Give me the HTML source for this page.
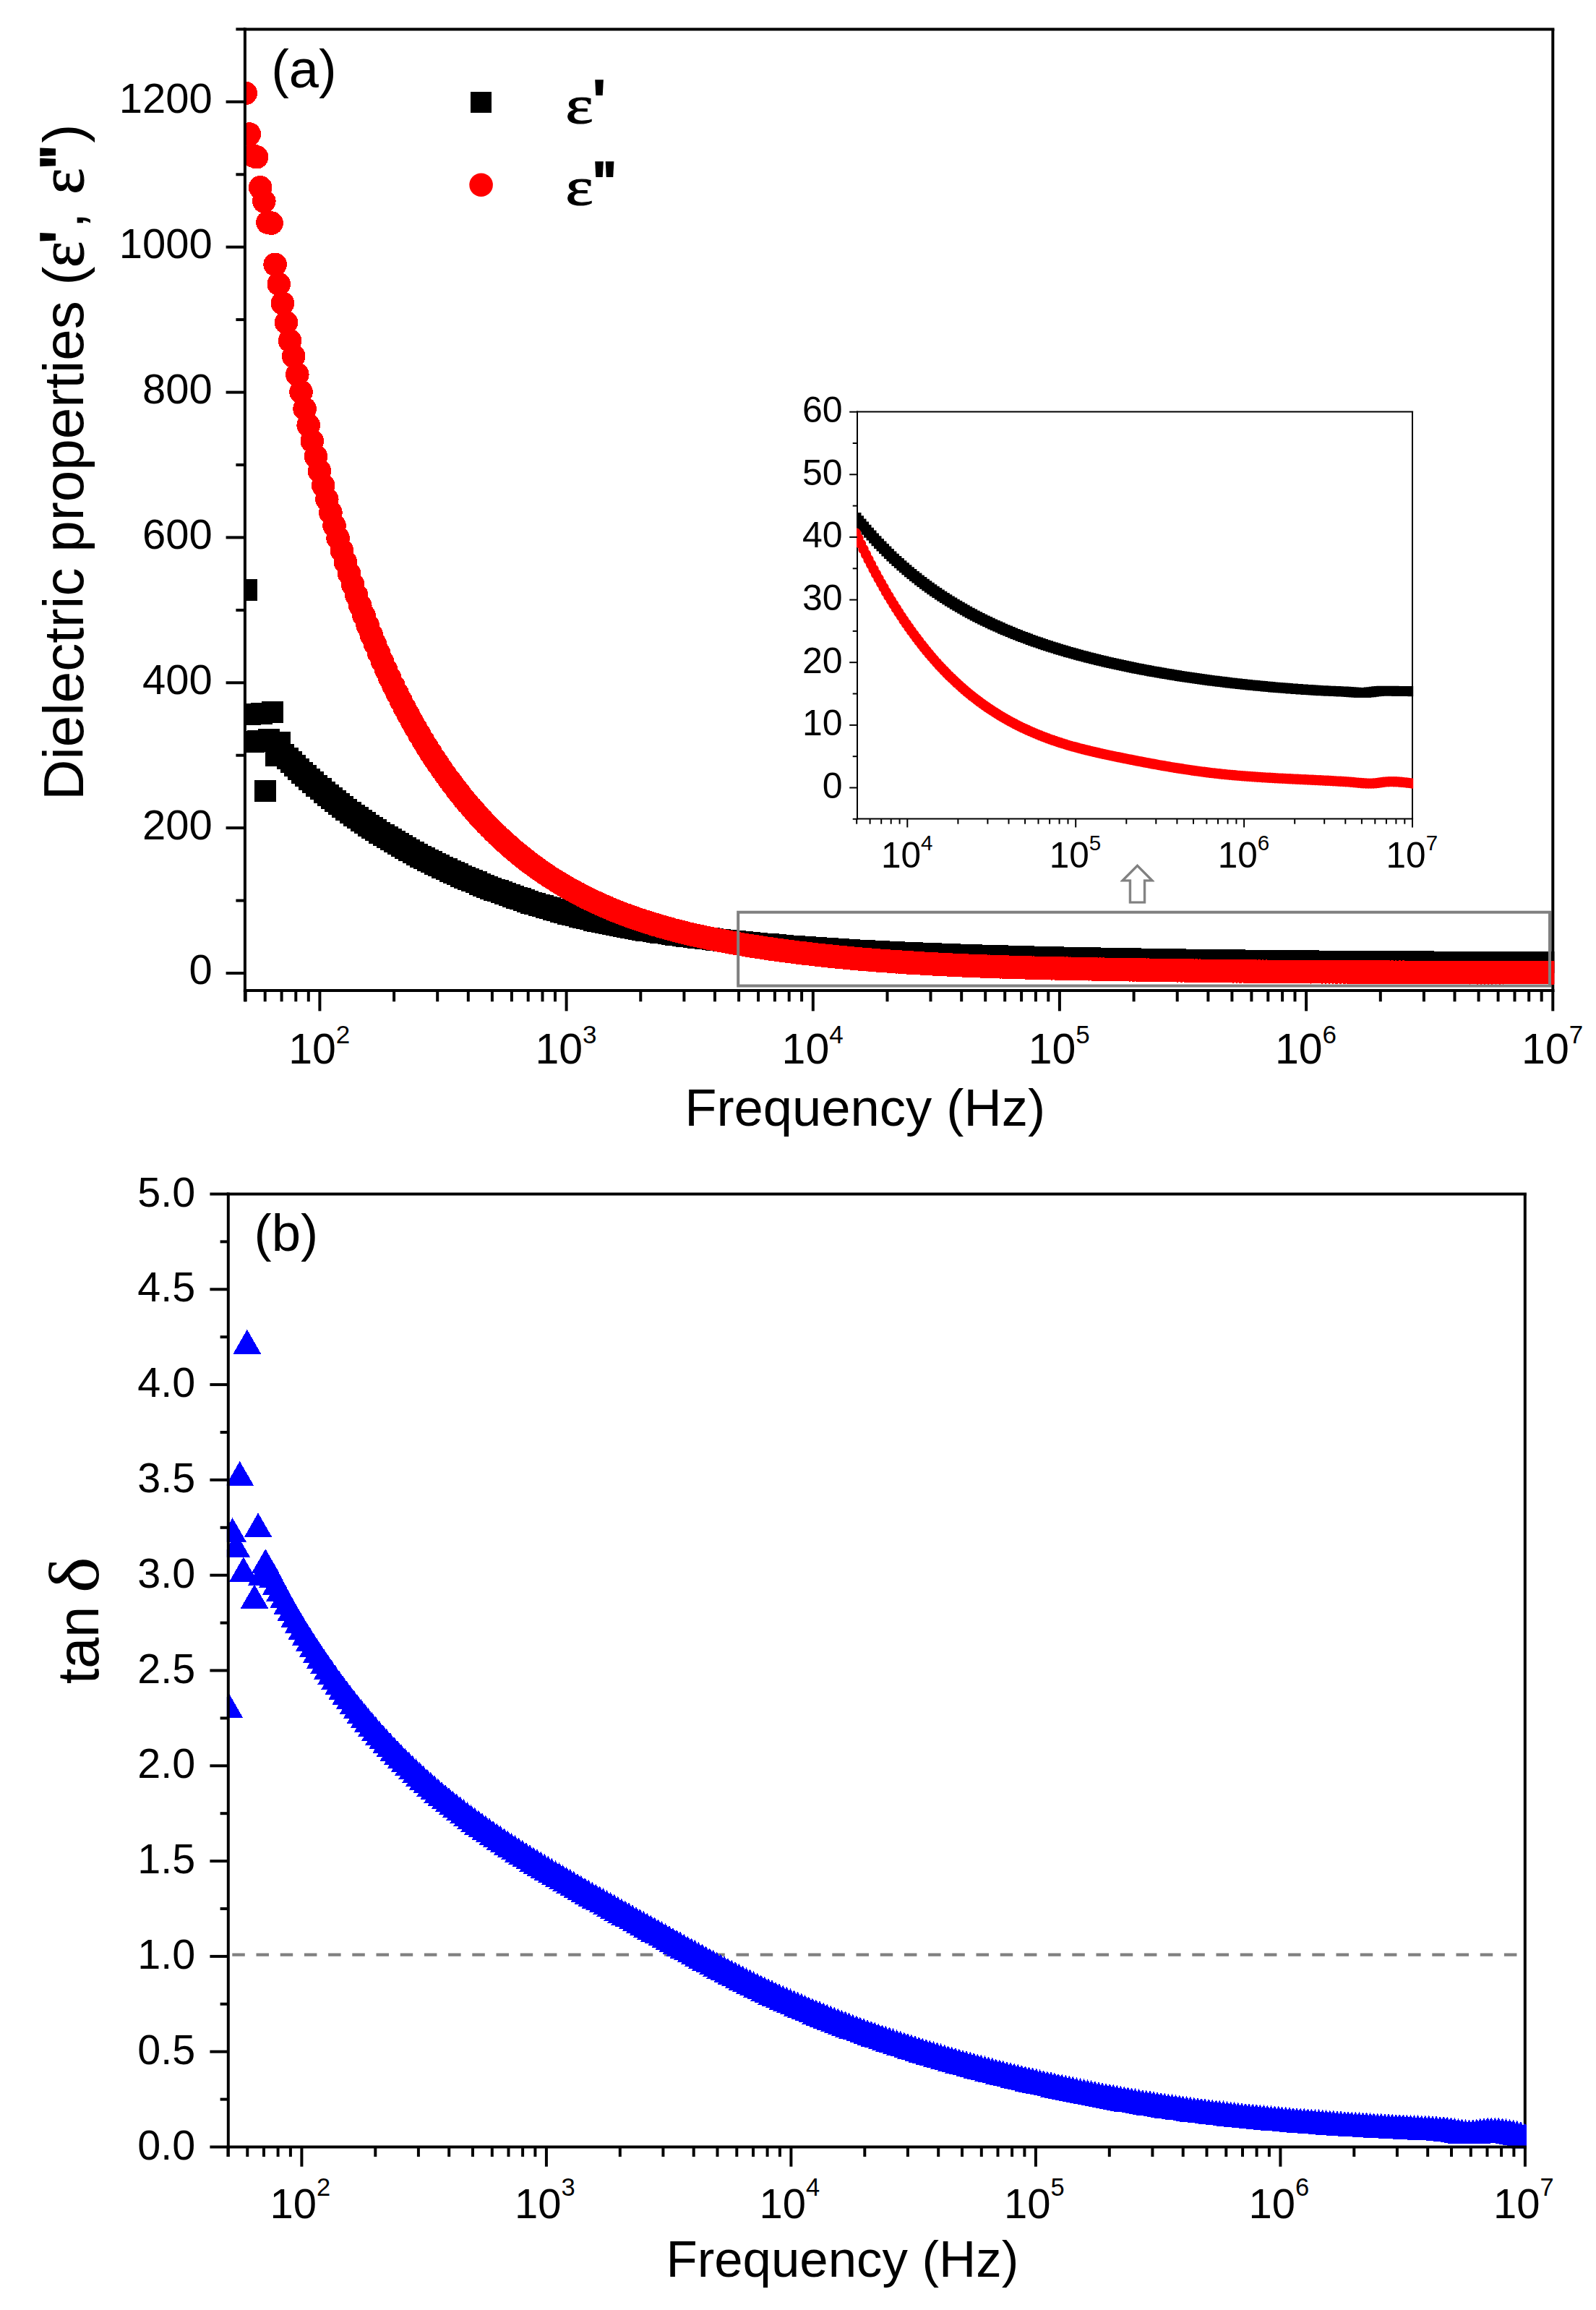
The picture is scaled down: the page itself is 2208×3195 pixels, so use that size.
<!DOCTYPE html>
<html lang="en"><head><meta charset="utf-8"><title>Dielectric properties and tan delta vs frequency</title>
<style>html,body{margin:0;padding:0;background:#fff}svg{display:block}text{fill:#000}</style></head><body>
<svg width="2208" height="3195" viewBox="0 0 2208 3195">
<rect width="2208" height="3195" fill="#fff"/>
<defs>
<clipPath id="ca"><rect x="337" y="38.4" width="1813.4" height="1333.8"/></clipPath>
<clipPath id="cb"><rect x="313.8" y="1649.4" width="1798.2" height="1322.2"/></clipPath>
<clipPath id="ci"><rect x="1185" y="568.4" width="770.2" height="565"/></clipPath>
</defs>
<g id="panel-a">
<line x1="336.9" y1="40.5" x2="2150.4" y2="40.5" stroke="#000" stroke-width="4"/>
<line x1="2148.3" y1="40.5" x2="2148.3" y2="1372" stroke="#000" stroke-width="4"/>
<g clip-path="url(#ca)" shape-rendering="crispEdges">
<path fill="#000" d="M326.2 801.1h30v30h-30zM331.3 972.5h30v30h-30zM336.4 1011.1h30v30h-30zM341.5 1010.1h30v30h-30zM346.7 972h30v30h-30zM351.8 1079.3h30v30h-30zM356.9 1007.6h30v30h-30zM362 969.5h30v30h-30zM367.1 1029.7h30v30h-30zM372.3 1012.1h30v30h-30zM377.4 1029.1h30v30h-30zM382.5 1034.1h30v30h-30zM387.6 1039h30v30h-30zM392.7 1043.9h30v30h-30zM397.8 1048.7h30v30h-30zM403 1053.5h30v30h-30zM408.1 1058.2h30v30h-30zM413.2 1062.8h30v30h-30zM418.3 1067.4h30v30h-30zM423.4 1071.9h30v30h-30zM428.5 1076.4h30v30h-30zM433.7 1080.7h30v30h-30zM438.8 1085h30v30h-30zM443.9 1089.2h30v30h-30zM449 1093.3h30v30h-30zM454.1 1097.3h30v30h-30zM459.3 1101.3h30v30h-30zM464.4 1105.1h30v30h-30zM469.5 1108.9h30v30h-30zM474.6 1112.6h30v30h-30zM479.7 1116.3h30v30h-30zM484.8 1119.8h30v30h-30zM490 1123.3h30v30h-30zM495.1 1126.8h30v30h-30zM500.2 1130.1h30v30h-30zM505.3 1133.4h30v30h-30zM510.4 1136.7h30v30h-30zM515.5 1139.9h30v30h-30zM520.7 1143.1h30v30h-30zM525.8 1146.3h30v30h-30zM530.9 1149.4h30v30h-30zM536 1152.4h30v30h-30zM541.1 1155.4h30v30h-30zM546.3 1158.3h30v30h-30zM551.4 1161.2h30v30h-30zM556.5 1164h30v30h-30zM561.6 1166.8h30v30h-30zM566.7 1169.5h30v30h-30zM571.8 1172.2h30v30h-30zM577 1174.8h30v30h-30zM582.1 1177.4h30v30h-30zM587.2 1179.9h30v30h-30zM592.3 1182.4h30v30h-30zM597.4 1184.9h30v30h-30zM602.6 1187.3h30v30h-30zM607.7 1189.7h30v30h-30zM612.8 1192.1h30v30h-30zM617.9 1194.4h30v30h-30zM623 1196.6h30v30h-30zM628.1 1198.9h30v30h-30zM633.3 1201.1h30v30h-30zM638.4 1203.2h30v30h-30zM643.5 1205.4h30v30h-30zM648.6 1207.5h30v30h-30zM653.7 1209.5h30v30h-30zM658.8 1211.5h30v30h-30zM664 1213.5h30v30h-30zM669.1 1215.5h30v30h-30zM674.2 1217.4h30v30h-30zM679.3 1219.3h30v30h-30zM684.4 1221.2h30v30h-30zM689.6 1223h30v30h-30zM694.7 1224.9h30v30h-30zM699.8 1226.6h30v30h-30zM704.9 1228.4h30v30h-30zM710 1230.1h30v30h-30zM715.1 1231.8h30v30h-30zM720.3 1233.5h30v30h-30zM725.4 1235.1h30v30h-30zM730.5 1236.8h30v30h-30zM735.6 1238.3h30v30h-30zM740.7 1239.9h30v30h-30zM745.8 1241.4h30v30h-30zM751 1242.9h30v30h-30zM756.1 1244.4h30v30h-30zM761.2 1245.8h30v30h-30zM766.3 1247.3h30v30h-30zM771.4 1248.6h30v30h-30zM776.6 1250h30v30h-30zM781.7 1251.3h30v30h-30zM786.8 1252.6h30v30h-30zM791.9 1253.9h30v30h-30zM797 1255.1h30v30h-30zM802.1 1256.4h30v30h-30zM807.3 1257.6h30v30h-30zM812.4 1258.7h30v30h-30zM817.5 1259.9h30v30h-30zM822.6 1261h30v30h-30zM827.7 1262h30v30h-30zM832.8 1263.1h30v30h-30zM838 1264.1h30v30h-30zM843.1 1265.1h30v30h-30zM848.2 1266.1h30v30h-30zM853.3 1267.1h30v30h-30zM858.4 1268h30v30h-30zM863.6 1268.9h30v30h-30zM868.7 1269.8h30v30h-30zM873.8 1270.7h30v30h-30zM878.9 1271.5h30v30h-30zM884 1272.3h30v30h-30zM889.1 1273.1h30v30h-30zM894.3 1273.9h30v30h-30zM899.4 1274.7h30v30h-30zM904.5 1275.4h30v30h-30zM909.6 1276.1h30v30h-30zM914.7 1276.8h30v30h-30zM919.8 1277.5h30v30h-30zM925 1278.2h30v30h-30zM930.1 1278.9h30v30h-30zM935.2 1279.6h30v30h-30zM940.3 1280.2h30v30h-30zM945.4 1280.8h30v30h-30zM950.6 1281.5h30v30h-30zM955.7 1282.1h30v30h-30zM960.8 1282.7h30v30h-30zM965.9 1283.3h30v30h-30zM971 1283.9h30v30h-30zM976.1 1284.5h30v30h-30zM981.3 1285h30v30h-30zM986.4 1285.6h30v30h-30zM991.5 1286.1h30v30h-30zM996.6 1286.7h30v30h-30zM1001.7 1287.2h30v30h-30zM1006.8 1287.7h30v30h-30zM1012 1288.2h30v30h-30zM1017.1 1288.7h30v30h-30zM1022.2 1289.2h30v30h-30zM1027.3 1289.6h30v30h-30zM1032.4 1290.1h30v30h-30zM1037.6 1290.6h30v30h-30zM1042.7 1291h30v30h-30zM1047.8 1291.4h30v30h-30zM1052.9 1291.9h30v30h-30zM1058 1292.3h30v30h-30zM1063.1 1292.7h30v30h-30zM1068.3 1293.1h30v30h-30zM1073.4 1293.5h30v30h-30zM1078.5 1293.9h30v30h-30zM1083.6 1294.3h30v30h-30zM1088.7 1294.7h30v30h-30zM1093.8 1295h30v30h-30zM1099 1295.4h30v30h-30zM1104.1 1295.7h30v30h-30zM1109.2 1296.1h30v30h-30zM1114.3 1296.4h30v30h-30zM1119.4 1296.8h30v30h-30zM1124.6 1297.1h30v30h-30zM1129.7 1297.4h30v30h-30zM1134.8 1297.7h30v30h-30zM1139.9 1298h30v30h-30zM1145 1298.3h30v30h-30zM1150.1 1298.6h30v30h-30zM1155.3 1298.9h30v30h-30zM1160.4 1299.2h30v30h-30zM1165.5 1299.5h30v30h-30zM1170.6 1299.8h30v30h-30zM1175.7 1300h30v30h-30zM1180.9 1300.3h30v30h-30zM1186 1300.6h30v30h-30zM1191.1 1300.8h30v30h-30zM1196.2 1301.1h30v30h-30zM1201.3 1301.3h30v30h-30zM1206.4 1301.6h30v30h-30zM1211.6 1301.8h30v30h-30zM1216.7 1302.1h30v30h-30zM1221.8 1302.3h30v30h-30zM1226.9 1302.5h30v30h-30zM1232 1302.7h30v30h-30zM1237.1 1303h30v30h-30zM1242.3 1303.2h30v30h-30zM1247.4 1303.4h30v30h-30zM1252.5 1303.6h30v30h-30zM1257.6 1303.8h30v30h-30zM1262.7 1304h30v30h-30zM1267.9 1304.2h30v30h-30zM1273 1304.4h30v30h-30zM1278.1 1304.6h30v30h-30zM1283.2 1304.8h30v30h-30zM1288.3 1305h30v30h-30zM1293.4 1305.2h30v30h-30zM1298.6 1305.3h30v30h-30zM1303.7 1305.5h30v30h-30zM1308.8 1305.7h30v30h-30zM1313.9 1305.9h30v30h-30zM1319 1306h30v30h-30zM1324.1 1306.2h30v30h-30zM1329.3 1306.4h30v30h-30zM1334.4 1306.5h30v30h-30zM1339.5 1306.7h30v30h-30zM1344.6 1306.8h30v30h-30zM1349.7 1307h30v30h-30zM1354.9 1307.1h30v30h-30zM1360 1307.3h30v30h-30zM1365.1 1307.4h30v30h-30zM1370.2 1307.6h30v30h-30zM1375.3 1307.7h30v30h-30zM1380.4 1307.9h30v30h-30zM1385.6 1308h30v30h-30zM1390.7 1308.1h30v30h-30zM1395.8 1308.3h30v30h-30zM1400.9 1308.4h30v30h-30zM1406 1308.5h30v30h-30zM1411.1 1308.6h30v30h-30zM1416.3 1308.8h30v30h-30zM1421.4 1308.9h30v30h-30zM1426.5 1309h30v30h-30zM1431.6 1309.1h30v30h-30zM1436.7 1309.2h30v30h-30zM1441.9 1309.4h30v30h-30zM1447 1309.5h30v30h-30zM1452.1 1309.6h30v30h-30zM1457.2 1309.7h30v30h-30zM1462.3 1309.8h30v30h-30zM1467.4 1309.9h30v30h-30zM1472.6 1310h30v30h-30zM1477.7 1310.1h30v30h-30zM1482.8 1310.2h30v30h-30zM1487.9 1310.3h30v30h-30zM1493 1310.4h30v30h-30zM1498.1 1310.5h30v30h-30zM1503.3 1310.6h30v30h-30zM1508.4 1310.7h30v30h-30zM1513.5 1310.8h30v30h-30zM1518.6 1310.9h30v30h-30zM1523.7 1311h30v30h-30zM1528.9 1311.1h30v30h-30zM1534 1311.2h30v30h-30zM1539.1 1311.3h30v30h-30zM1544.2 1311.4h30v30h-30zM1549.3 1311.4h30v30h-30zM1554.4 1311.5h30v30h-30zM1559.6 1311.6h30v30h-30zM1564.7 1311.7h30v30h-30zM1569.8 1311.8h30v30h-30zM1574.9 1311.9h30v30h-30zM1580 1311.9h30v30h-30zM1585.1 1312h30v30h-30zM1590.3 1312.1h30v30h-30zM1595.4 1312.2h30v30h-30zM1600.5 1312.2h30v30h-30zM1605.6 1312.3h30v30h-30zM1610.7 1312.4h30v30h-30zM1615.9 1312.5h30v30h-30zM1621 1312.5h30v30h-30zM1626.1 1312.6h30v30h-30zM1631.2 1312.7h30v30h-30zM1636.3 1312.7h30v30h-30zM1641.4 1312.8h30v30h-30zM1646.6 1312.9h30v30h-30zM1651.7 1312.9h30v30h-30zM1656.8 1313h30v30h-30zM1661.9 1313.1h30v30h-30zM1667 1313.1h30v30h-30zM1672.1 1313.2h30v30h-30zM1677.3 1313.3h30v30h-30zM1682.4 1313.3h30v30h-30zM1687.5 1313.4h30v30h-30zM1692.6 1313.4h30v30h-30zM1697.7 1313.5h30v30h-30zM1702.9 1313.6h30v30h-30zM1708 1313.6h30v30h-30zM1713.1 1313.7h30v30h-30zM1718.2 1313.7h30v30h-30zM1723.3 1313.8h30v30h-30zM1728.4 1313.8h30v30h-30zM1733.6 1313.9h30v30h-30zM1738.7 1313.9h30v30h-30zM1743.8 1314h30v30h-30zM1748.9 1314h30v30h-30zM1754 1314.1h30v30h-30zM1759.2 1314.1h30v30h-30zM1764.3 1314.2h30v30h-30zM1769.4 1314.2h30v30h-30zM1774.5 1314.3h30v30h-30zM1779.6 1314.3h30v30h-30zM1784.7 1314.4h30v30h-30zM1789.9 1314.4h30v30h-30zM1795 1314.4h30v30h-30zM1800.1 1314.5h30v30h-30zM1805.2 1314.5h30v30h-30zM1810.3 1314.6h30v30h-30zM1815.4 1314.6h30v30h-30zM1820.6 1314.7h30v30h-30zM1825.7 1314.7h30v30h-30zM1830.8 1314.7h30v30h-30zM1835.9 1314.8h30v30h-30zM1841 1314.8h30v30h-30zM1846.2 1314.8h30v30h-30zM1851.3 1314.9h30v30h-30zM1856.4 1314.9h30v30h-30zM1861.5 1314.9h30v30h-30zM1866.6 1315h30v30h-30zM1871.7 1315h30v30h-30zM1876.9 1315h30v30h-30zM1882 1315.1h30v30h-30zM1887.1 1315.1h30v30h-30zM1892.2 1315.1h30v30h-30zM1897.3 1315.2h30v30h-30zM1902.4 1315.2h30v30h-30zM1907.6 1315.2h30v30h-30zM1912.7 1315.3h30v30h-30zM1917.8 1315.3h30v30h-30zM1922.9 1315.3h30v30h-30zM1928 1315.3h30v30h-30zM1933.2 1315.4h30v30h-30zM1938.3 1315.4h30v30h-30zM1943.4 1315.4h30v30h-30zM1948.5 1315.4h30v30h-30zM1953.6 1315.4h30v30h-30zM1958.7 1315.5h30v30h-30zM1963.9 1315.5h30v30h-30zM1969 1315.5h30v30h-30zM1974.1 1315.5h30v30h-30zM1979.2 1315.5h30v30h-30zM1984.3 1315.6h30v30h-30zM1989.4 1315.6h30v30h-30zM1994.6 1315.6h30v30h-30zM1999.7 1315.6h30v30h-30zM2004.8 1315.6h30v30h-30zM2009.9 1315.7h30v30h-30zM2015 1315.7h30v30h-30zM2020.2 1315.7h30v30h-30zM2025.3 1315.7h30v30h-30zM2030.4 1315.8h30v30h-30zM2035.5 1315.8h30v30h-30zM2040.6 1315.7h30v30h-30zM2045.7 1315.7h30v30h-30zM2050.9 1315.7h30v30h-30zM2056 1315.6h30v30h-30zM2061.1 1315.6h30v30h-30zM2066.2 1315.5h30v30h-30zM2071.3 1315.5h30v30h-30zM2076.4 1315.5h30v30h-30zM2081.6 1315.5h30v30h-30zM2086.7 1315.5h30v30h-30zM2091.8 1315.5h30v30h-30zM2096.9 1315.5h30v30h-30zM2102 1315.5h30v30h-30zM2107.2 1315.5h30v30h-30zM2112.3 1315.5h30v30h-30zM2117.4 1315.5h30v30h-30zM2122.5 1315.5h30v30h-30zM2127.6 1315.5h30v30h-30zM2132.7 1315.5h30v30h-30zM2134.8 1315.5h30v30h-30z"/>
<path fill="#f00" d="M323.4 128.8a16.3 16.3 0 1 0 32.6 0a16.3 16.3 0 1 0 -32.6 0zM328.5 185.5a16.3 16.3 0 1 0 32.6 0a16.3 16.3 0 1 0 -32.6 0zM333.6 215.2a16.3 16.3 0 1 0 32.6 0a16.3 16.3 0 1 0 -32.6 0zM338.7 217.2a16.3 16.3 0 1 0 32.6 0a16.3 16.3 0 1 0 -32.6 0zM343.9 259.3a16.3 16.3 0 1 0 32.6 0a16.3 16.3 0 1 0 -32.6 0zM349 278.4a16.3 16.3 0 1 0 32.6 0a16.3 16.3 0 1 0 -32.6 0zM354.1 307.6a16.3 16.3 0 1 0 32.6 0a16.3 16.3 0 1 0 -32.6 0zM359.2 308.6a16.3 16.3 0 1 0 32.6 0a16.3 16.3 0 1 0 -32.6 0zM364.3 365.8a16.3 16.3 0 1 0 32.6 0a16.3 16.3 0 1 0 -32.6 0zM369.5 392.9a16.3 16.3 0 1 0 32.6 0a16.3 16.3 0 1 0 -32.6 0zM374.6 419.5a16.3 16.3 0 1 0 32.6 0a16.3 16.3 0 1 0 -32.6 0zM379.7 446.1a16.3 16.3 0 1 0 32.6 0a16.3 16.3 0 1 0 -32.6 0zM384.8 471.3a16.3 16.3 0 1 0 32.6 0a16.3 16.3 0 1 0 -32.6 0zM389.9 492.8a16.3 16.3 0 1 0 32.6 0a16.3 16.3 0 1 0 -32.6 0zM395 517.9a16.3 16.3 0 1 0 32.6 0a16.3 16.3 0 1 0 -32.6 0zM400.2 542.1a16.3 16.3 0 1 0 32.6 0a16.3 16.3 0 1 0 -32.6 0zM405.3 565.5a16.3 16.3 0 1 0 32.6 0a16.3 16.3 0 1 0 -32.6 0zM410.4 588.2a16.3 16.3 0 1 0 32.6 0a16.3 16.3 0 1 0 -32.6 0zM415.5 610a16.3 16.3 0 1 0 32.6 0a16.3 16.3 0 1 0 -32.6 0zM420.6 631.2a16.3 16.3 0 1 0 32.6 0a16.3 16.3 0 1 0 -32.6 0zM425.7 651.6a16.3 16.3 0 1 0 32.6 0a16.3 16.3 0 1 0 -32.6 0zM430.9 671.4a16.3 16.3 0 1 0 32.6 0a16.3 16.3 0 1 0 -32.6 0zM436 690.5a16.3 16.3 0 1 0 32.6 0a16.3 16.3 0 1 0 -32.6 0zM441.1 709a16.3 16.3 0 1 0 32.6 0a16.3 16.3 0 1 0 -32.6 0zM446.2 727a16.3 16.3 0 1 0 32.6 0a16.3 16.3 0 1 0 -32.6 0zM451.3 744.3a16.3 16.3 0 1 0 32.6 0a16.3 16.3 0 1 0 -32.6 0zM456.5 761.1a16.3 16.3 0 1 0 32.6 0a16.3 16.3 0 1 0 -32.6 0zM461.6 777.4a16.3 16.3 0 1 0 32.6 0a16.3 16.3 0 1 0 -32.6 0zM466.7 793.1a16.3 16.3 0 1 0 32.6 0a16.3 16.3 0 1 0 -32.6 0zM471.8 808.4a16.3 16.3 0 1 0 32.6 0a16.3 16.3 0 1 0 -32.6 0zM476.9 823.2a16.3 16.3 0 1 0 32.6 0a16.3 16.3 0 1 0 -32.6 0zM482 837.5a16.3 16.3 0 1 0 32.6 0a16.3 16.3 0 1 0 -32.6 0zM487.2 851.4a16.3 16.3 0 1 0 32.6 0a16.3 16.3 0 1 0 -32.6 0zM492.3 864.9a16.3 16.3 0 1 0 32.6 0a16.3 16.3 0 1 0 -32.6 0zM497.4 878a16.3 16.3 0 1 0 32.6 0a16.3 16.3 0 1 0 -32.6 0zM502.5 890.6a16.3 16.3 0 1 0 32.6 0a16.3 16.3 0 1 0 -32.6 0zM507.6 902.9a16.3 16.3 0 1 0 32.6 0a16.3 16.3 0 1 0 -32.6 0zM512.7 914.9a16.3 16.3 0 1 0 32.6 0a16.3 16.3 0 1 0 -32.6 0zM517.9 926.4a16.3 16.3 0 1 0 32.6 0a16.3 16.3 0 1 0 -32.6 0zM523 937.7a16.3 16.3 0 1 0 32.6 0a16.3 16.3 0 1 0 -32.6 0zM528.1 948.5a16.3 16.3 0 1 0 32.6 0a16.3 16.3 0 1 0 -32.6 0zM533.2 958.9a16.3 16.3 0 1 0 32.6 0a16.3 16.3 0 1 0 -32.6 0zM538.3 969.1a16.3 16.3 0 1 0 32.6 0a16.3 16.3 0 1 0 -32.6 0zM543.5 979a16.3 16.3 0 1 0 32.6 0a16.3 16.3 0 1 0 -32.6 0zM548.6 988.6a16.3 16.3 0 1 0 32.6 0a16.3 16.3 0 1 0 -32.6 0zM553.7 998a16.3 16.3 0 1 0 32.6 0a16.3 16.3 0 1 0 -32.6 0zM558.8 1007a16.3 16.3 0 1 0 32.6 0a16.3 16.3 0 1 0 -32.6 0zM563.9 1015.9a16.3 16.3 0 1 0 32.6 0a16.3 16.3 0 1 0 -32.6 0zM569 1024.4a16.3 16.3 0 1 0 32.6 0a16.3 16.3 0 1 0 -32.6 0zM574.2 1032.8a16.3 16.3 0 1 0 32.6 0a16.3 16.3 0 1 0 -32.6 0zM579.3 1040.9a16.3 16.3 0 1 0 32.6 0a16.3 16.3 0 1 0 -32.6 0zM584.4 1048.8a16.3 16.3 0 1 0 32.6 0a16.3 16.3 0 1 0 -32.6 0zM589.5 1056.4a16.3 16.3 0 1 0 32.6 0a16.3 16.3 0 1 0 -32.6 0zM594.6 1063.9a16.3 16.3 0 1 0 32.6 0a16.3 16.3 0 1 0 -32.6 0zM599.8 1071.2a16.3 16.3 0 1 0 32.6 0a16.3 16.3 0 1 0 -32.6 0zM604.9 1078.2a16.3 16.3 0 1 0 32.6 0a16.3 16.3 0 1 0 -32.6 0zM610 1085.1a16.3 16.3 0 1 0 32.6 0a16.3 16.3 0 1 0 -32.6 0zM615.1 1091.8a16.3 16.3 0 1 0 32.6 0a16.3 16.3 0 1 0 -32.6 0zM620.2 1098.3a16.3 16.3 0 1 0 32.6 0a16.3 16.3 0 1 0 -32.6 0zM625.3 1104.7a16.3 16.3 0 1 0 32.6 0a16.3 16.3 0 1 0 -32.6 0zM630.5 1110.9a16.3 16.3 0 1 0 32.6 0a16.3 16.3 0 1 0 -32.6 0zM635.6 1116.9a16.3 16.3 0 1 0 32.6 0a16.3 16.3 0 1 0 -32.6 0zM640.7 1122.7a16.3 16.3 0 1 0 32.6 0a16.3 16.3 0 1 0 -32.6 0zM645.8 1128.4a16.3 16.3 0 1 0 32.6 0a16.3 16.3 0 1 0 -32.6 0zM650.9 1134a16.3 16.3 0 1 0 32.6 0a16.3 16.3 0 1 0 -32.6 0zM656 1139.4a16.3 16.3 0 1 0 32.6 0a16.3 16.3 0 1 0 -32.6 0zM661.2 1144.6a16.3 16.3 0 1 0 32.6 0a16.3 16.3 0 1 0 -32.6 0zM666.3 1149.8a16.3 16.3 0 1 0 32.6 0a16.3 16.3 0 1 0 -32.6 0zM671.4 1154.7a16.3 16.3 0 1 0 32.6 0a16.3 16.3 0 1 0 -32.6 0zM676.5 1159.6a16.3 16.3 0 1 0 32.6 0a16.3 16.3 0 1 0 -32.6 0zM681.6 1164.3a16.3 16.3 0 1 0 32.6 0a16.3 16.3 0 1 0 -32.6 0zM686.8 1168.9a16.3 16.3 0 1 0 32.6 0a16.3 16.3 0 1 0 -32.6 0zM691.9 1173.4a16.3 16.3 0 1 0 32.6 0a16.3 16.3 0 1 0 -32.6 0zM697 1177.7a16.3 16.3 0 1 0 32.6 0a16.3 16.3 0 1 0 -32.6 0zM702.1 1181.9a16.3 16.3 0 1 0 32.6 0a16.3 16.3 0 1 0 -32.6 0zM707.2 1186.1a16.3 16.3 0 1 0 32.6 0a16.3 16.3 0 1 0 -32.6 0zM712.3 1190.1a16.3 16.3 0 1 0 32.6 0a16.3 16.3 0 1 0 -32.6 0zM717.5 1194a16.3 16.3 0 1 0 32.6 0a16.3 16.3 0 1 0 -32.6 0zM722.6 1197.8a16.3 16.3 0 1 0 32.6 0a16.3 16.3 0 1 0 -32.6 0zM727.7 1201.5a16.3 16.3 0 1 0 32.6 0a16.3 16.3 0 1 0 -32.6 0zM732.8 1205.1a16.3 16.3 0 1 0 32.6 0a16.3 16.3 0 1 0 -32.6 0zM737.9 1208.6a16.3 16.3 0 1 0 32.6 0a16.3 16.3 0 1 0 -32.6 0zM743 1212a16.3 16.3 0 1 0 32.6 0a16.3 16.3 0 1 0 -32.6 0zM748.2 1215.3a16.3 16.3 0 1 0 32.6 0a16.3 16.3 0 1 0 -32.6 0zM753.3 1218.5a16.3 16.3 0 1 0 32.6 0a16.3 16.3 0 1 0 -32.6 0zM758.4 1221.6a16.3 16.3 0 1 0 32.6 0a16.3 16.3 0 1 0 -32.6 0zM763.5 1224.7a16.3 16.3 0 1 0 32.6 0a16.3 16.3 0 1 0 -32.6 0zM768.6 1227.7a16.3 16.3 0 1 0 32.6 0a16.3 16.3 0 1 0 -32.6 0zM773.8 1230.6a16.3 16.3 0 1 0 32.6 0a16.3 16.3 0 1 0 -32.6 0zM778.9 1233.4a16.3 16.3 0 1 0 32.6 0a16.3 16.3 0 1 0 -32.6 0zM784 1236.1a16.3 16.3 0 1 0 32.6 0a16.3 16.3 0 1 0 -32.6 0zM789.1 1238.8a16.3 16.3 0 1 0 32.6 0a16.3 16.3 0 1 0 -32.6 0zM794.2 1241.4a16.3 16.3 0 1 0 32.6 0a16.3 16.3 0 1 0 -32.6 0zM799.3 1243.9a16.3 16.3 0 1 0 32.6 0a16.3 16.3 0 1 0 -32.6 0zM804.5 1246.4a16.3 16.3 0 1 0 32.6 0a16.3 16.3 0 1 0 -32.6 0zM809.6 1248.8a16.3 16.3 0 1 0 32.6 0a16.3 16.3 0 1 0 -32.6 0zM814.7 1251.1a16.3 16.3 0 1 0 32.6 0a16.3 16.3 0 1 0 -32.6 0zM819.8 1253.3a16.3 16.3 0 1 0 32.6 0a16.3 16.3 0 1 0 -32.6 0zM824.9 1255.6a16.3 16.3 0 1 0 32.6 0a16.3 16.3 0 1 0 -32.6 0zM830 1257.7a16.3 16.3 0 1 0 32.6 0a16.3 16.3 0 1 0 -32.6 0zM835.2 1259.8a16.3 16.3 0 1 0 32.6 0a16.3 16.3 0 1 0 -32.6 0zM840.3 1261.8a16.3 16.3 0 1 0 32.6 0a16.3 16.3 0 1 0 -32.6 0zM845.4 1263.8a16.3 16.3 0 1 0 32.6 0a16.3 16.3 0 1 0 -32.6 0zM850.5 1265.7a16.3 16.3 0 1 0 32.6 0a16.3 16.3 0 1 0 -32.6 0zM855.6 1267.6a16.3 16.3 0 1 0 32.6 0a16.3 16.3 0 1 0 -32.6 0zM860.8 1269.4a16.3 16.3 0 1 0 32.6 0a16.3 16.3 0 1 0 -32.6 0zM865.9 1271.2a16.3 16.3 0 1 0 32.6 0a16.3 16.3 0 1 0 -32.6 0zM871 1272.9a16.3 16.3 0 1 0 32.6 0a16.3 16.3 0 1 0 -32.6 0zM876.1 1274.6a16.3 16.3 0 1 0 32.6 0a16.3 16.3 0 1 0 -32.6 0zM881.2 1276.2a16.3 16.3 0 1 0 32.6 0a16.3 16.3 0 1 0 -32.6 0zM886.3 1277.8a16.3 16.3 0 1 0 32.6 0a16.3 16.3 0 1 0 -32.6 0zM891.5 1279.4a16.3 16.3 0 1 0 32.6 0a16.3 16.3 0 1 0 -32.6 0zM896.6 1280.9a16.3 16.3 0 1 0 32.6 0a16.3 16.3 0 1 0 -32.6 0zM901.7 1282.4a16.3 16.3 0 1 0 32.6 0a16.3 16.3 0 1 0 -32.6 0zM906.8 1283.8a16.3 16.3 0 1 0 32.6 0a16.3 16.3 0 1 0 -32.6 0zM911.9 1285.2a16.3 16.3 0 1 0 32.6 0a16.3 16.3 0 1 0 -32.6 0zM917 1286.6a16.3 16.3 0 1 0 32.6 0a16.3 16.3 0 1 0 -32.6 0zM922.2 1287.9a16.3 16.3 0 1 0 32.6 0a16.3 16.3 0 1 0 -32.6 0zM927.3 1289.2a16.3 16.3 0 1 0 32.6 0a16.3 16.3 0 1 0 -32.6 0zM932.4 1290.4a16.3 16.3 0 1 0 32.6 0a16.3 16.3 0 1 0 -32.6 0zM937.5 1291.7a16.3 16.3 0 1 0 32.6 0a16.3 16.3 0 1 0 -32.6 0zM942.6 1292.9a16.3 16.3 0 1 0 32.6 0a16.3 16.3 0 1 0 -32.6 0zM947.8 1294a16.3 16.3 0 1 0 32.6 0a16.3 16.3 0 1 0 -32.6 0zM952.9 1295.2a16.3 16.3 0 1 0 32.6 0a16.3 16.3 0 1 0 -32.6 0zM958 1296.3a16.3 16.3 0 1 0 32.6 0a16.3 16.3 0 1 0 -32.6 0zM963.1 1297.4a16.3 16.3 0 1 0 32.6 0a16.3 16.3 0 1 0 -32.6 0zM968.2 1298.4a16.3 16.3 0 1 0 32.6 0a16.3 16.3 0 1 0 -32.6 0zM973.3 1299.4a16.3 16.3 0 1 0 32.6 0a16.3 16.3 0 1 0 -32.6 0zM978.5 1300.5a16.3 16.3 0 1 0 32.6 0a16.3 16.3 0 1 0 -32.6 0zM983.6 1301.4a16.3 16.3 0 1 0 32.6 0a16.3 16.3 0 1 0 -32.6 0zM988.7 1302.4a16.3 16.3 0 1 0 32.6 0a16.3 16.3 0 1 0 -32.6 0zM993.8 1303.4a16.3 16.3 0 1 0 32.6 0a16.3 16.3 0 1 0 -32.6 0zM998.9 1304.3a16.3 16.3 0 1 0 32.6 0a16.3 16.3 0 1 0 -32.6 0zM1004 1305.2a16.3 16.3 0 1 0 32.6 0a16.3 16.3 0 1 0 -32.6 0zM1009.2 1306.1a16.3 16.3 0 1 0 32.6 0a16.3 16.3 0 1 0 -32.6 0zM1014.3 1306.9a16.3 16.3 0 1 0 32.6 0a16.3 16.3 0 1 0 -32.6 0zM1019.4 1307.8a16.3 16.3 0 1 0 32.6 0a16.3 16.3 0 1 0 -32.6 0zM1024.5 1308.6a16.3 16.3 0 1 0 32.6 0a16.3 16.3 0 1 0 -32.6 0zM1029.6 1309.4a16.3 16.3 0 1 0 32.6 0a16.3 16.3 0 1 0 -32.6 0zM1034.8 1310.2a16.3 16.3 0 1 0 32.6 0a16.3 16.3 0 1 0 -32.6 0zM1039.9 1311a16.3 16.3 0 1 0 32.6 0a16.3 16.3 0 1 0 -32.6 0zM1045 1311.7a16.3 16.3 0 1 0 32.6 0a16.3 16.3 0 1 0 -32.6 0zM1050.1 1312.5a16.3 16.3 0 1 0 32.6 0a16.3 16.3 0 1 0 -32.6 0zM1055.2 1313.2a16.3 16.3 0 1 0 32.6 0a16.3 16.3 0 1 0 -32.6 0zM1060.3 1313.9a16.3 16.3 0 1 0 32.6 0a16.3 16.3 0 1 0 -32.6 0zM1065.5 1314.6a16.3 16.3 0 1 0 32.6 0a16.3 16.3 0 1 0 -32.6 0zM1070.6 1315.3a16.3 16.3 0 1 0 32.6 0a16.3 16.3 0 1 0 -32.6 0zM1075.7 1316a16.3 16.3 0 1 0 32.6 0a16.3 16.3 0 1 0 -32.6 0zM1080.8 1316.6a16.3 16.3 0 1 0 32.6 0a16.3 16.3 0 1 0 -32.6 0zM1085.9 1317.3a16.3 16.3 0 1 0 32.6 0a16.3 16.3 0 1 0 -32.6 0zM1091 1317.9a16.3 16.3 0 1 0 32.6 0a16.3 16.3 0 1 0 -32.6 0zM1096.2 1318.5a16.3 16.3 0 1 0 32.6 0a16.3 16.3 0 1 0 -32.6 0zM1101.3 1319.1a16.3 16.3 0 1 0 32.6 0a16.3 16.3 0 1 0 -32.6 0zM1106.4 1319.7a16.3 16.3 0 1 0 32.6 0a16.3 16.3 0 1 0 -32.6 0zM1111.5 1320.3a16.3 16.3 0 1 0 32.6 0a16.3 16.3 0 1 0 -32.6 0zM1116.6 1320.9a16.3 16.3 0 1 0 32.6 0a16.3 16.3 0 1 0 -32.6 0zM1121.8 1321.4a16.3 16.3 0 1 0 32.6 0a16.3 16.3 0 1 0 -32.6 0zM1126.9 1322a16.3 16.3 0 1 0 32.6 0a16.3 16.3 0 1 0 -32.6 0zM1132 1322.5a16.3 16.3 0 1 0 32.6 0a16.3 16.3 0 1 0 -32.6 0zM1137.1 1323a16.3 16.3 0 1 0 32.6 0a16.3 16.3 0 1 0 -32.6 0zM1142.2 1323.6a16.3 16.3 0 1 0 32.6 0a16.3 16.3 0 1 0 -32.6 0zM1147.3 1324a16.3 16.3 0 1 0 32.6 0a16.3 16.3 0 1 0 -32.6 0zM1152.5 1324.5a16.3 16.3 0 1 0 32.6 0a16.3 16.3 0 1 0 -32.6 0zM1157.6 1325a16.3 16.3 0 1 0 32.6 0a16.3 16.3 0 1 0 -32.6 0zM1162.7 1325.5a16.3 16.3 0 1 0 32.6 0a16.3 16.3 0 1 0 -32.6 0zM1167.8 1325.9a16.3 16.3 0 1 0 32.6 0a16.3 16.3 0 1 0 -32.6 0zM1172.9 1326.4a16.3 16.3 0 1 0 32.6 0a16.3 16.3 0 1 0 -32.6 0zM1178.1 1326.8a16.3 16.3 0 1 0 32.6 0a16.3 16.3 0 1 0 -32.6 0zM1183.2 1327.2a16.3 16.3 0 1 0 32.6 0a16.3 16.3 0 1 0 -32.6 0zM1188.3 1327.7a16.3 16.3 0 1 0 32.6 0a16.3 16.3 0 1 0 -32.6 0zM1193.4 1328.1a16.3 16.3 0 1 0 32.6 0a16.3 16.3 0 1 0 -32.6 0zM1198.5 1328.5a16.3 16.3 0 1 0 32.6 0a16.3 16.3 0 1 0 -32.6 0zM1203.6 1328.8a16.3 16.3 0 1 0 32.6 0a16.3 16.3 0 1 0 -32.6 0zM1208.8 1329.2a16.3 16.3 0 1 0 32.6 0a16.3 16.3 0 1 0 -32.6 0zM1213.9 1329.6a16.3 16.3 0 1 0 32.6 0a16.3 16.3 0 1 0 -32.6 0zM1219 1330a16.3 16.3 0 1 0 32.6 0a16.3 16.3 0 1 0 -32.6 0zM1224.1 1330.3a16.3 16.3 0 1 0 32.6 0a16.3 16.3 0 1 0 -32.6 0zM1229.2 1330.6a16.3 16.3 0 1 0 32.6 0a16.3 16.3 0 1 0 -32.6 0zM1234.3 1331a16.3 16.3 0 1 0 32.6 0a16.3 16.3 0 1 0 -32.6 0zM1239.5 1331.3a16.3 16.3 0 1 0 32.6 0a16.3 16.3 0 1 0 -32.6 0zM1244.6 1331.6a16.3 16.3 0 1 0 32.6 0a16.3 16.3 0 1 0 -32.6 0zM1249.7 1331.9a16.3 16.3 0 1 0 32.6 0a16.3 16.3 0 1 0 -32.6 0zM1254.8 1332.2a16.3 16.3 0 1 0 32.6 0a16.3 16.3 0 1 0 -32.6 0zM1259.9 1332.5a16.3 16.3 0 1 0 32.6 0a16.3 16.3 0 1 0 -32.6 0zM1265.1 1332.8a16.3 16.3 0 1 0 32.6 0a16.3 16.3 0 1 0 -32.6 0zM1270.2 1333.1a16.3 16.3 0 1 0 32.6 0a16.3 16.3 0 1 0 -32.6 0zM1275.3 1333.4a16.3 16.3 0 1 0 32.6 0a16.3 16.3 0 1 0 -32.6 0zM1280.4 1333.7a16.3 16.3 0 1 0 32.6 0a16.3 16.3 0 1 0 -32.6 0zM1285.5 1333.9a16.3 16.3 0 1 0 32.6 0a16.3 16.3 0 1 0 -32.6 0zM1290.6 1334.2a16.3 16.3 0 1 0 32.6 0a16.3 16.3 0 1 0 -32.6 0zM1295.8 1334.4a16.3 16.3 0 1 0 32.6 0a16.3 16.3 0 1 0 -32.6 0zM1300.9 1334.7a16.3 16.3 0 1 0 32.6 0a16.3 16.3 0 1 0 -32.6 0zM1306 1334.9a16.3 16.3 0 1 0 32.6 0a16.3 16.3 0 1 0 -32.6 0zM1311.1 1335.1a16.3 16.3 0 1 0 32.6 0a16.3 16.3 0 1 0 -32.6 0zM1316.2 1335.4a16.3 16.3 0 1 0 32.6 0a16.3 16.3 0 1 0 -32.6 0zM1321.3 1335.6a16.3 16.3 0 1 0 32.6 0a16.3 16.3 0 1 0 -32.6 0zM1326.5 1335.8a16.3 16.3 0 1 0 32.6 0a16.3 16.3 0 1 0 -32.6 0zM1331.6 1336a16.3 16.3 0 1 0 32.6 0a16.3 16.3 0 1 0 -32.6 0zM1336.7 1336.2a16.3 16.3 0 1 0 32.6 0a16.3 16.3 0 1 0 -32.6 0zM1341.8 1336.4a16.3 16.3 0 1 0 32.6 0a16.3 16.3 0 1 0 -32.6 0zM1346.9 1336.6a16.3 16.3 0 1 0 32.6 0a16.3 16.3 0 1 0 -32.6 0zM1352.1 1336.8a16.3 16.3 0 1 0 32.6 0a16.3 16.3 0 1 0 -32.6 0zM1357.2 1336.9a16.3 16.3 0 1 0 32.6 0a16.3 16.3 0 1 0 -32.6 0zM1362.3 1337.1a16.3 16.3 0 1 0 32.6 0a16.3 16.3 0 1 0 -32.6 0zM1367.4 1337.3a16.3 16.3 0 1 0 32.6 0a16.3 16.3 0 1 0 -32.6 0zM1372.5 1337.5a16.3 16.3 0 1 0 32.6 0a16.3 16.3 0 1 0 -32.6 0zM1377.6 1337.6a16.3 16.3 0 1 0 32.6 0a16.3 16.3 0 1 0 -32.6 0zM1382.8 1337.8a16.3 16.3 0 1 0 32.6 0a16.3 16.3 0 1 0 -32.6 0zM1387.9 1337.9a16.3 16.3 0 1 0 32.6 0a16.3 16.3 0 1 0 -32.6 0zM1393 1338.1a16.3 16.3 0 1 0 32.6 0a16.3 16.3 0 1 0 -32.6 0zM1398.1 1338.2a16.3 16.3 0 1 0 32.6 0a16.3 16.3 0 1 0 -32.6 0zM1403.2 1338.4a16.3 16.3 0 1 0 32.6 0a16.3 16.3 0 1 0 -32.6 0zM1408.3 1338.5a16.3 16.3 0 1 0 32.6 0a16.3 16.3 0 1 0 -32.6 0zM1413.5 1338.7a16.3 16.3 0 1 0 32.6 0a16.3 16.3 0 1 0 -32.6 0zM1418.6 1338.8a16.3 16.3 0 1 0 32.6 0a16.3 16.3 0 1 0 -32.6 0zM1423.7 1338.9a16.3 16.3 0 1 0 32.6 0a16.3 16.3 0 1 0 -32.6 0zM1428.8 1339a16.3 16.3 0 1 0 32.6 0a16.3 16.3 0 1 0 -32.6 0zM1433.9 1339.2a16.3 16.3 0 1 0 32.6 0a16.3 16.3 0 1 0 -32.6 0zM1439.1 1339.3a16.3 16.3 0 1 0 32.6 0a16.3 16.3 0 1 0 -32.6 0zM1444.2 1339.4a16.3 16.3 0 1 0 32.6 0a16.3 16.3 0 1 0 -32.6 0zM1449.3 1339.5a16.3 16.3 0 1 0 32.6 0a16.3 16.3 0 1 0 -32.6 0zM1454.4 1339.6a16.3 16.3 0 1 0 32.6 0a16.3 16.3 0 1 0 -32.6 0zM1459.5 1339.7a16.3 16.3 0 1 0 32.6 0a16.3 16.3 0 1 0 -32.6 0zM1464.6 1339.8a16.3 16.3 0 1 0 32.6 0a16.3 16.3 0 1 0 -32.6 0zM1469.8 1339.9a16.3 16.3 0 1 0 32.6 0a16.3 16.3 0 1 0 -32.6 0zM1474.9 1340a16.3 16.3 0 1 0 32.6 0a16.3 16.3 0 1 0 -32.6 0zM1480 1340.1a16.3 16.3 0 1 0 32.6 0a16.3 16.3 0 1 0 -32.6 0zM1485.1 1340.2a16.3 16.3 0 1 0 32.6 0a16.3 16.3 0 1 0 -32.6 0zM1490.2 1340.3a16.3 16.3 0 1 0 32.6 0a16.3 16.3 0 1 0 -32.6 0zM1495.3 1340.4a16.3 16.3 0 1 0 32.6 0a16.3 16.3 0 1 0 -32.6 0zM1500.5 1340.5a16.3 16.3 0 1 0 32.6 0a16.3 16.3 0 1 0 -32.6 0zM1505.6 1340.6a16.3 16.3 0 1 0 32.6 0a16.3 16.3 0 1 0 -32.6 0zM1510.7 1340.7a16.3 16.3 0 1 0 32.6 0a16.3 16.3 0 1 0 -32.6 0zM1515.8 1340.8a16.3 16.3 0 1 0 32.6 0a16.3 16.3 0 1 0 -32.6 0zM1520.9 1340.9a16.3 16.3 0 1 0 32.6 0a16.3 16.3 0 1 0 -32.6 0zM1526.1 1340.9a16.3 16.3 0 1 0 32.6 0a16.3 16.3 0 1 0 -32.6 0zM1531.2 1341a16.3 16.3 0 1 0 32.6 0a16.3 16.3 0 1 0 -32.6 0zM1536.3 1341.1a16.3 16.3 0 1 0 32.6 0a16.3 16.3 0 1 0 -32.6 0zM1541.4 1341.2a16.3 16.3 0 1 0 32.6 0a16.3 16.3 0 1 0 -32.6 0zM1546.5 1341.3a16.3 16.3 0 1 0 32.6 0a16.3 16.3 0 1 0 -32.6 0zM1551.6 1341.4a16.3 16.3 0 1 0 32.6 0a16.3 16.3 0 1 0 -32.6 0zM1556.8 1341.4a16.3 16.3 0 1 0 32.6 0a16.3 16.3 0 1 0 -32.6 0zM1561.9 1341.5a16.3 16.3 0 1 0 32.6 0a16.3 16.3 0 1 0 -32.6 0zM1567 1341.6a16.3 16.3 0 1 0 32.6 0a16.3 16.3 0 1 0 -32.6 0zM1572.1 1341.7a16.3 16.3 0 1 0 32.6 0a16.3 16.3 0 1 0 -32.6 0zM1577.2 1341.8a16.3 16.3 0 1 0 32.6 0a16.3 16.3 0 1 0 -32.6 0zM1582.3 1341.8a16.3 16.3 0 1 0 32.6 0a16.3 16.3 0 1 0 -32.6 0zM1587.5 1341.9a16.3 16.3 0 1 0 32.6 0a16.3 16.3 0 1 0 -32.6 0zM1592.6 1342a16.3 16.3 0 1 0 32.6 0a16.3 16.3 0 1 0 -32.6 0zM1597.7 1342.1a16.3 16.3 0 1 0 32.6 0a16.3 16.3 0 1 0 -32.6 0zM1602.8 1342.1a16.3 16.3 0 1 0 32.6 0a16.3 16.3 0 1 0 -32.6 0zM1607.9 1342.2a16.3 16.3 0 1 0 32.6 0a16.3 16.3 0 1 0 -32.6 0zM1613.1 1342.3a16.3 16.3 0 1 0 32.6 0a16.3 16.3 0 1 0 -32.6 0zM1618.2 1342.4a16.3 16.3 0 1 0 32.6 0a16.3 16.3 0 1 0 -32.6 0zM1623.3 1342.4a16.3 16.3 0 1 0 32.6 0a16.3 16.3 0 1 0 -32.6 0zM1628.4 1342.5a16.3 16.3 0 1 0 32.6 0a16.3 16.3 0 1 0 -32.6 0zM1633.5 1342.6a16.3 16.3 0 1 0 32.6 0a16.3 16.3 0 1 0 -32.6 0zM1638.6 1342.6a16.3 16.3 0 1 0 32.6 0a16.3 16.3 0 1 0 -32.6 0zM1643.8 1342.7a16.3 16.3 0 1 0 32.6 0a16.3 16.3 0 1 0 -32.6 0zM1648.9 1342.8a16.3 16.3 0 1 0 32.6 0a16.3 16.3 0 1 0 -32.6 0zM1654 1342.8a16.3 16.3 0 1 0 32.6 0a16.3 16.3 0 1 0 -32.6 0zM1659.1 1342.9a16.3 16.3 0 1 0 32.6 0a16.3 16.3 0 1 0 -32.6 0zM1664.2 1343a16.3 16.3 0 1 0 32.6 0a16.3 16.3 0 1 0 -32.6 0zM1669.3 1343a16.3 16.3 0 1 0 32.6 0a16.3 16.3 0 1 0 -32.6 0zM1674.5 1343.1a16.3 16.3 0 1 0 32.6 0a16.3 16.3 0 1 0 -32.6 0zM1679.6 1343.2a16.3 16.3 0 1 0 32.6 0a16.3 16.3 0 1 0 -32.6 0zM1684.7 1343.2a16.3 16.3 0 1 0 32.6 0a16.3 16.3 0 1 0 -32.6 0zM1689.8 1343.3a16.3 16.3 0 1 0 32.6 0a16.3 16.3 0 1 0 -32.6 0zM1694.9 1343.3a16.3 16.3 0 1 0 32.6 0a16.3 16.3 0 1 0 -32.6 0zM1700.1 1343.4a16.3 16.3 0 1 0 32.6 0a16.3 16.3 0 1 0 -32.6 0zM1705.2 1343.4a16.3 16.3 0 1 0 32.6 0a16.3 16.3 0 1 0 -32.6 0zM1710.3 1343.5a16.3 16.3 0 1 0 32.6 0a16.3 16.3 0 1 0 -32.6 0zM1715.4 1343.5a16.3 16.3 0 1 0 32.6 0a16.3 16.3 0 1 0 -32.6 0zM1720.5 1343.6a16.3 16.3 0 1 0 32.6 0a16.3 16.3 0 1 0 -32.6 0zM1725.6 1343.6a16.3 16.3 0 1 0 32.6 0a16.3 16.3 0 1 0 -32.6 0zM1730.8 1343.7a16.3 16.3 0 1 0 32.6 0a16.3 16.3 0 1 0 -32.6 0zM1735.9 1343.7a16.3 16.3 0 1 0 32.6 0a16.3 16.3 0 1 0 -32.6 0zM1741 1343.8a16.3 16.3 0 1 0 32.6 0a16.3 16.3 0 1 0 -32.6 0zM1746.1 1343.8a16.3 16.3 0 1 0 32.6 0a16.3 16.3 0 1 0 -32.6 0zM1751.2 1343.9a16.3 16.3 0 1 0 32.6 0a16.3 16.3 0 1 0 -32.6 0zM1756.4 1343.9a16.3 16.3 0 1 0 32.6 0a16.3 16.3 0 1 0 -32.6 0zM1761.5 1343.9a16.3 16.3 0 1 0 32.6 0a16.3 16.3 0 1 0 -32.6 0zM1766.6 1344a16.3 16.3 0 1 0 32.6 0a16.3 16.3 0 1 0 -32.6 0zM1771.7 1344a16.3 16.3 0 1 0 32.6 0a16.3 16.3 0 1 0 -32.6 0zM1776.8 1344a16.3 16.3 0 1 0 32.6 0a16.3 16.3 0 1 0 -32.6 0zM1781.9 1344.1a16.3 16.3 0 1 0 32.6 0a16.3 16.3 0 1 0 -32.6 0zM1787.1 1344.1a16.3 16.3 0 1 0 32.6 0a16.3 16.3 0 1 0 -32.6 0zM1792.2 1344.1a16.3 16.3 0 1 0 32.6 0a16.3 16.3 0 1 0 -32.6 0zM1797.3 1344.2a16.3 16.3 0 1 0 32.6 0a16.3 16.3 0 1 0 -32.6 0zM1802.4 1344.2a16.3 16.3 0 1 0 32.6 0a16.3 16.3 0 1 0 -32.6 0zM1807.5 1344.2a16.3 16.3 0 1 0 32.6 0a16.3 16.3 0 1 0 -32.6 0zM1812.6 1344.3a16.3 16.3 0 1 0 32.6 0a16.3 16.3 0 1 0 -32.6 0zM1817.8 1344.3a16.3 16.3 0 1 0 32.6 0a16.3 16.3 0 1 0 -32.6 0zM1822.9 1344.3a16.3 16.3 0 1 0 32.6 0a16.3 16.3 0 1 0 -32.6 0zM1828 1344.3a16.3 16.3 0 1 0 32.6 0a16.3 16.3 0 1 0 -32.6 0zM1833.1 1344.4a16.3 16.3 0 1 0 32.6 0a16.3 16.3 0 1 0 -32.6 0zM1838.2 1344.4a16.3 16.3 0 1 0 32.6 0a16.3 16.3 0 1 0 -32.6 0zM1843.4 1344.4a16.3 16.3 0 1 0 32.6 0a16.3 16.3 0 1 0 -32.6 0zM1848.5 1344.4a16.3 16.3 0 1 0 32.6 0a16.3 16.3 0 1 0 -32.6 0zM1853.6 1344.5a16.3 16.3 0 1 0 32.6 0a16.3 16.3 0 1 0 -32.6 0zM1858.7 1344.5a16.3 16.3 0 1 0 32.6 0a16.3 16.3 0 1 0 -32.6 0zM1863.8 1344.5a16.3 16.3 0 1 0 32.6 0a16.3 16.3 0 1 0 -32.6 0zM1868.9 1344.5a16.3 16.3 0 1 0 32.6 0a16.3 16.3 0 1 0 -32.6 0zM1874.1 1344.5a16.3 16.3 0 1 0 32.6 0a16.3 16.3 0 1 0 -32.6 0zM1879.2 1344.6a16.3 16.3 0 1 0 32.6 0a16.3 16.3 0 1 0 -32.6 0zM1884.3 1344.6a16.3 16.3 0 1 0 32.6 0a16.3 16.3 0 1 0 -32.6 0zM1889.4 1344.6a16.3 16.3 0 1 0 32.6 0a16.3 16.3 0 1 0 -32.6 0zM1894.5 1344.6a16.3 16.3 0 1 0 32.6 0a16.3 16.3 0 1 0 -32.6 0zM1899.6 1344.6a16.3 16.3 0 1 0 32.6 0a16.3 16.3 0 1 0 -32.6 0zM1904.8 1344.7a16.3 16.3 0 1 0 32.6 0a16.3 16.3 0 1 0 -32.6 0zM1909.9 1344.7a16.3 16.3 0 1 0 32.6 0a16.3 16.3 0 1 0 -32.6 0zM1915 1344.7a16.3 16.3 0 1 0 32.6 0a16.3 16.3 0 1 0 -32.6 0zM1920.1 1344.7a16.3 16.3 0 1 0 32.6 0a16.3 16.3 0 1 0 -32.6 0zM1925.2 1344.7a16.3 16.3 0 1 0 32.6 0a16.3 16.3 0 1 0 -32.6 0zM1930.4 1344.8a16.3 16.3 0 1 0 32.6 0a16.3 16.3 0 1 0 -32.6 0zM1935.5 1344.8a16.3 16.3 0 1 0 32.6 0a16.3 16.3 0 1 0 -32.6 0zM1940.6 1344.8a16.3 16.3 0 1 0 32.6 0a16.3 16.3 0 1 0 -32.6 0zM1945.7 1344.8a16.3 16.3 0 1 0 32.6 0a16.3 16.3 0 1 0 -32.6 0zM1950.8 1344.8a16.3 16.3 0 1 0 32.6 0a16.3 16.3 0 1 0 -32.6 0zM1955.9 1344.9a16.3 16.3 0 1 0 32.6 0a16.3 16.3 0 1 0 -32.6 0zM1961.1 1344.9a16.3 16.3 0 1 0 32.6 0a16.3 16.3 0 1 0 -32.6 0zM1966.2 1344.9a16.3 16.3 0 1 0 32.6 0a16.3 16.3 0 1 0 -32.6 0zM1971.3 1344.9a16.3 16.3 0 1 0 32.6 0a16.3 16.3 0 1 0 -32.6 0zM1976.4 1344.9a16.3 16.3 0 1 0 32.6 0a16.3 16.3 0 1 0 -32.6 0zM1981.5 1345a16.3 16.3 0 1 0 32.6 0a16.3 16.3 0 1 0 -32.6 0zM1986.6 1345a16.3 16.3 0 1 0 32.6 0a16.3 16.3 0 1 0 -32.6 0zM1991.8 1345a16.3 16.3 0 1 0 32.6 0a16.3 16.3 0 1 0 -32.6 0zM1996.9 1345a16.3 16.3 0 1 0 32.6 0a16.3 16.3 0 1 0 -32.6 0zM2002 1345.1a16.3 16.3 0 1 0 32.6 0a16.3 16.3 0 1 0 -32.6 0zM2007.1 1345.1a16.3 16.3 0 1 0 32.6 0a16.3 16.3 0 1 0 -32.6 0zM2012.2 1345.1a16.3 16.3 0 1 0 32.6 0a16.3 16.3 0 1 0 -32.6 0zM2017.4 1345.2a16.3 16.3 0 1 0 32.6 0a16.3 16.3 0 1 0 -32.6 0zM2022.5 1345.2a16.3 16.3 0 1 0 32.6 0a16.3 16.3 0 1 0 -32.6 0zM2027.6 1345.3a16.3 16.3 0 1 0 32.6 0a16.3 16.3 0 1 0 -32.6 0zM2032.7 1345.3a16.3 16.3 0 1 0 32.6 0a16.3 16.3 0 1 0 -32.6 0zM2037.8 1345.3a16.3 16.3 0 1 0 32.6 0a16.3 16.3 0 1 0 -32.6 0zM2042.9 1345.3a16.3 16.3 0 1 0 32.6 0a16.3 16.3 0 1 0 -32.6 0zM2048.1 1345.3a16.3 16.3 0 1 0 32.6 0a16.3 16.3 0 1 0 -32.6 0zM2053.2 1345.3a16.3 16.3 0 1 0 32.6 0a16.3 16.3 0 1 0 -32.6 0zM2058.3 1345.3a16.3 16.3 0 1 0 32.6 0a16.3 16.3 0 1 0 -32.6 0zM2063.4 1345.2a16.3 16.3 0 1 0 32.6 0a16.3 16.3 0 1 0 -32.6 0zM2068.5 1345.2a16.3 16.3 0 1 0 32.6 0a16.3 16.3 0 1 0 -32.6 0zM2073.6 1345.1a16.3 16.3 0 1 0 32.6 0a16.3 16.3 0 1 0 -32.6 0zM2078.8 1345.1a16.3 16.3 0 1 0 32.6 0a16.3 16.3 0 1 0 -32.6 0zM2083.9 1345a16.3 16.3 0 1 0 32.6 0a16.3 16.3 0 1 0 -32.6 0zM2089 1345a16.3 16.3 0 1 0 32.6 0a16.3 16.3 0 1 0 -32.6 0zM2094.1 1345a16.3 16.3 0 1 0 32.6 0a16.3 16.3 0 1 0 -32.6 0zM2099.2 1345a16.3 16.3 0 1 0 32.6 0a16.3 16.3 0 1 0 -32.6 0zM2104.4 1345.1a16.3 16.3 0 1 0 32.6 0a16.3 16.3 0 1 0 -32.6 0zM2109.5 1345.1a16.3 16.3 0 1 0 32.6 0a16.3 16.3 0 1 0 -32.6 0zM2114.6 1345.1a16.3 16.3 0 1 0 32.6 0a16.3 16.3 0 1 0 -32.6 0zM2119.7 1345.2a16.3 16.3 0 1 0 32.6 0a16.3 16.3 0 1 0 -32.6 0zM2124.8 1345.2a16.3 16.3 0 1 0 32.6 0a16.3 16.3 0 1 0 -32.6 0zM2129.9 1345.3a16.3 16.3 0 1 0 32.6 0a16.3 16.3 0 1 0 -32.6 0zM2132 1345.3a16.3 16.3 0 1 0 32.6 0a16.3 16.3 0 1 0 -32.6 0z"/>
</g>
<line x1="338.9" y1="38.5" x2="338.9" y2="1372" stroke="#000" stroke-width="4"/>
<line x1="336.9" y1="1370" x2="2150.4" y2="1370" stroke="#000" stroke-width="4"/>
<line x1="312.6" y1="1346" x2="338.9" y2="1346" stroke="#000" stroke-width="4"/>
<text x="293.8" y="1361.4" font-size="58" text-anchor="end" font-family='"Liberation Sans", sans-serif'>0</text>
<line x1="326.4" y1="1245.6" x2="338.9" y2="1245.6" stroke="#000" stroke-width="4"/>
<line x1="312.6" y1="1145.1" x2="338.9" y2="1145.1" stroke="#000" stroke-width="4"/>
<text x="293.8" y="1160.5" font-size="58" text-anchor="end" font-family='"Liberation Sans", sans-serif'>200</text>
<line x1="326.4" y1="1044.7" x2="338.9" y2="1044.7" stroke="#000" stroke-width="4"/>
<line x1="312.6" y1="944.3" x2="338.9" y2="944.3" stroke="#000" stroke-width="4"/>
<text x="293.8" y="959.7" font-size="58" text-anchor="end" font-family='"Liberation Sans", sans-serif'>400</text>
<line x1="326.4" y1="843.9" x2="338.9" y2="843.9" stroke="#000" stroke-width="4"/>
<line x1="312.6" y1="743.4" x2="338.9" y2="743.4" stroke="#000" stroke-width="4"/>
<text x="293.8" y="758.8" font-size="58" text-anchor="end" font-family='"Liberation Sans", sans-serif'>600</text>
<line x1="326.4" y1="643" x2="338.9" y2="643" stroke="#000" stroke-width="4"/>
<line x1="312.6" y1="542.6" x2="338.9" y2="542.6" stroke="#000" stroke-width="4"/>
<text x="293.8" y="558" font-size="58" text-anchor="end" font-family='"Liberation Sans", sans-serif'>800</text>
<line x1="326.4" y1="442.1" x2="338.9" y2="442.1" stroke="#000" stroke-width="4"/>
<line x1="312.6" y1="341.7" x2="338.9" y2="341.7" stroke="#000" stroke-width="4"/>
<text x="293.8" y="357.1" font-size="58" text-anchor="end" font-family='"Liberation Sans", sans-serif'>1000</text>
<line x1="326.4" y1="241.3" x2="338.9" y2="241.3" stroke="#000" stroke-width="4"/>
<line x1="312.6" y1="140.8" x2="338.9" y2="140.8" stroke="#000" stroke-width="4"/>
<text x="293.8" y="156.2" font-size="58" text-anchor="end" font-family='"Liberation Sans", sans-serif'>1200</text>
<line x1="326.4" y1="40.4" x2="338.9" y2="40.4" stroke="#000" stroke-width="4"/>
<line x1="339.7" y1="1370" x2="339.7" y2="1385.3" stroke="#000" stroke-width="4"/>
<line x1="366.7" y1="1370" x2="366.7" y2="1385.3" stroke="#000" stroke-width="4"/>
<line x1="389.6" y1="1370" x2="389.6" y2="1385.3" stroke="#000" stroke-width="4"/>
<line x1="409.3" y1="1370" x2="409.3" y2="1385.3" stroke="#000" stroke-width="4"/>
<line x1="426.8" y1="1370" x2="426.8" y2="1385.3" stroke="#000" stroke-width="4"/>
<line x1="442.4" y1="1370" x2="442.4" y2="1398.4" stroke="#000" stroke-width="4"/>
<line x1="545.1" y1="1370" x2="545.1" y2="1385.3" stroke="#000" stroke-width="4"/>
<line x1="605.2" y1="1370" x2="605.2" y2="1385.3" stroke="#000" stroke-width="4"/>
<line x1="647.8" y1="1370" x2="647.8" y2="1385.3" stroke="#000" stroke-width="4"/>
<line x1="680.9" y1="1370" x2="680.9" y2="1385.3" stroke="#000" stroke-width="4"/>
<line x1="707.9" y1="1370" x2="707.9" y2="1385.3" stroke="#000" stroke-width="4"/>
<line x1="730.7" y1="1370" x2="730.7" y2="1385.3" stroke="#000" stroke-width="4"/>
<line x1="750.5" y1="1370" x2="750.5" y2="1385.3" stroke="#000" stroke-width="4"/>
<line x1="768" y1="1370" x2="768" y2="1385.3" stroke="#000" stroke-width="4"/>
<line x1="783.6" y1="1370" x2="783.6" y2="1398.4" stroke="#000" stroke-width="4"/>
<line x1="886.3" y1="1370" x2="886.3" y2="1385.3" stroke="#000" stroke-width="4"/>
<line x1="946.4" y1="1370" x2="946.4" y2="1385.3" stroke="#000" stroke-width="4"/>
<line x1="989" y1="1370" x2="989" y2="1385.3" stroke="#000" stroke-width="4"/>
<line x1="1022.1" y1="1370" x2="1022.1" y2="1385.3" stroke="#000" stroke-width="4"/>
<line x1="1049.1" y1="1370" x2="1049.1" y2="1385.3" stroke="#000" stroke-width="4"/>
<line x1="1071.9" y1="1370" x2="1071.9" y2="1385.3" stroke="#000" stroke-width="4"/>
<line x1="1091.7" y1="1370" x2="1091.7" y2="1385.3" stroke="#000" stroke-width="4"/>
<line x1="1109.1" y1="1370" x2="1109.1" y2="1385.3" stroke="#000" stroke-width="4"/>
<line x1="1124.8" y1="1370" x2="1124.8" y2="1398.4" stroke="#000" stroke-width="4"/>
<line x1="1227.5" y1="1370" x2="1227.5" y2="1385.3" stroke="#000" stroke-width="4"/>
<line x1="1287.5" y1="1370" x2="1287.5" y2="1385.3" stroke="#000" stroke-width="4"/>
<line x1="1330.2" y1="1370" x2="1330.2" y2="1385.3" stroke="#000" stroke-width="4"/>
<line x1="1363.2" y1="1370" x2="1363.2" y2="1385.3" stroke="#000" stroke-width="4"/>
<line x1="1390.2" y1="1370" x2="1390.2" y2="1385.3" stroke="#000" stroke-width="4"/>
<line x1="1413.1" y1="1370" x2="1413.1" y2="1385.3" stroke="#000" stroke-width="4"/>
<line x1="1432.9" y1="1370" x2="1432.9" y2="1385.3" stroke="#000" stroke-width="4"/>
<line x1="1450.3" y1="1370" x2="1450.3" y2="1385.3" stroke="#000" stroke-width="4"/>
<line x1="1465.9" y1="1370" x2="1465.9" y2="1398.4" stroke="#000" stroke-width="4"/>
<line x1="1568.6" y1="1370" x2="1568.6" y2="1385.3" stroke="#000" stroke-width="4"/>
<line x1="1628.7" y1="1370" x2="1628.7" y2="1385.3" stroke="#000" stroke-width="4"/>
<line x1="1671.4" y1="1370" x2="1671.4" y2="1385.3" stroke="#000" stroke-width="4"/>
<line x1="1704.4" y1="1370" x2="1704.4" y2="1385.3" stroke="#000" stroke-width="4"/>
<line x1="1731.4" y1="1370" x2="1731.4" y2="1385.3" stroke="#000" stroke-width="4"/>
<line x1="1754.3" y1="1370" x2="1754.3" y2="1385.3" stroke="#000" stroke-width="4"/>
<line x1="1774.1" y1="1370" x2="1774.1" y2="1385.3" stroke="#000" stroke-width="4"/>
<line x1="1791.5" y1="1370" x2="1791.5" y2="1385.3" stroke="#000" stroke-width="4"/>
<line x1="1807.1" y1="1370" x2="1807.1" y2="1398.4" stroke="#000" stroke-width="4"/>
<line x1="1909.8" y1="1370" x2="1909.8" y2="1385.3" stroke="#000" stroke-width="4"/>
<line x1="1969.9" y1="1370" x2="1969.9" y2="1385.3" stroke="#000" stroke-width="4"/>
<line x1="2012.5" y1="1370" x2="2012.5" y2="1385.3" stroke="#000" stroke-width="4"/>
<line x1="2045.6" y1="1370" x2="2045.6" y2="1385.3" stroke="#000" stroke-width="4"/>
<line x1="2072.6" y1="1370" x2="2072.6" y2="1385.3" stroke="#000" stroke-width="4"/>
<line x1="2095.5" y1="1370" x2="2095.5" y2="1385.3" stroke="#000" stroke-width="4"/>
<line x1="2115.2" y1="1370" x2="2115.2" y2="1385.3" stroke="#000" stroke-width="4"/>
<line x1="2132.7" y1="1370" x2="2132.7" y2="1385.3" stroke="#000" stroke-width="4"/>
<line x1="2148.3" y1="1370" x2="2148.3" y2="1398.4" stroke="#000" stroke-width="4"/>
<line x1="338.9" y1="1370" x2="338.9" y2="1385.3" stroke="#000" stroke-width="4"/>
<text x="399.2" y="1471.2" font-size="59" font-family='"Liberation Sans", sans-serif'>10<tspan font-size="35" dy="-28.4">2</tspan></text>
<text x="740.4" y="1471.2" font-size="59" font-family='"Liberation Sans", sans-serif'>10<tspan font-size="35" dy="-28.4">3</tspan></text>
<text x="1081.6" y="1471.2" font-size="59" font-family='"Liberation Sans", sans-serif'>10<tspan font-size="35" dy="-28.4">4</tspan></text>
<text x="1422.7" y="1471.2" font-size="59" font-family='"Liberation Sans", sans-serif'>10<tspan font-size="35" dy="-28.4">5</tspan></text>
<text x="1763.9" y="1471.2" font-size="59" font-family='"Liberation Sans", sans-serif'>10<tspan font-size="35" dy="-28.4">6</tspan></text>
<text x="2105.1" y="1471.2" font-size="59" font-family='"Liberation Sans", sans-serif'>10<tspan font-size="35" dy="-28.4">7</tspan></text>
<text x="947.2" y="1557.1" font-size="72.4" text-anchor="start" font-family='"Liberation Sans", sans-serif'>Frequency (Hz)</text>
<text transform="translate(114.6,1107) rotate(-90)" font-size="78.2" font-family='"Liberation Sans", sans-serif'>Dielectric properties (<tspan font-family='"Liberation Serif", "DejaVu Serif", serif' font-size="86" dx="-1.6" stroke="#000" stroke-width="1.1">ε</tspan><tspan font-weight="bold" font-size="88" dx="-4.4">'</tspan><tspan dx="1.8">, </tspan><tspan font-family='"Liberation Serif", "DejaVu Serif", serif' font-size="86" dx="3.4" stroke="#000" stroke-width="1.1">ε</tspan><tspan font-weight="bold" font-size="88" letter-spacing="-6.5" dx="-2.6">''</tspan><tspan dx="8.6">)</tspan></text>
<text x="375.2" y="121.2" font-size="74" text-anchor="start" font-family='"Liberation Sans", sans-serif'>(a)</text>
<rect x="651.4" y="127" width="29" height="29" fill="#000" shape-rendering="crispEdges"/>
<circle cx="665.6" cy="255.7" r="16.3" fill="#f00"/>
<text transform="translate(782.3,170.2) scale(1.09,0.885)" font-size="84" stroke="#000" stroke-width="1.3" font-family='"Liberation Serif", "DejaVu Serif", serif'>ε</text>
<text x="818.5" y="170.2" font-size="88" font-weight="bold" letter-spacing="0" font-family='"Liberation Sans", sans-serif'>'</text>
<text transform="translate(782.3,283.0) scale(1.09,0.885)" font-size="84" stroke="#000" stroke-width="1.3" font-family='"Liberation Serif", "DejaVu Serif", serif'>ε</text>
<text x="818.5" y="283.0" font-size="88" font-weight="bold" letter-spacing="-6.5" font-family='"Liberation Sans", sans-serif'>''</text>
<rect x="1021.2" y="1261.7" width="1122.8" height="101.8" fill="none" stroke="#808080" stroke-width="4"/>
<text transform="translate(1573.5,1245.4) scale(1,0.86)" font-size="68" text-anchor="middle" style="fill:#808080" stroke="#808080" stroke-width="0.9" font-family='"Noto Sans CJK SC", "Noto Sans CJK JP", "Noto Sans CJK KR", NanumGothic, "DejaVu Sans", sans-serif'>⇧</text>
</g>
<g id="inset">
<line x1="1185" y1="569.5" x2="1955.1" y2="569.5" stroke="#000" stroke-width="2"/>
<line x1="1954" y1="569.5" x2="1954" y2="1133.4" stroke="#000" stroke-width="2"/>
<line x1="1186" y1="568.5" x2="1186" y2="1133.4" stroke="#000" stroke-width="2"/>
<line x1="1185" y1="1132.4" x2="1955.1" y2="1132.4" stroke="#000" stroke-width="2"/>
<g clip-path="url(#ci)">
<path fill="#000" d="M1177.5 708.9h14v14h-14zM1181 713.2h14v14h-14zM1184.5 717.5h14v14h-14zM1188 721.6h14v14h-14zM1191.5 725.7h14v14h-14zM1195 729.7h14v14h-14zM1198.5 733.6h14v14h-14zM1202 737.5h14v14h-14zM1205.5 741.3h14v14h-14zM1209 745h14v14h-14zM1212.5 748.6h14v14h-14zM1216 752.1h14v14h-14zM1219.4 755.6h14v14h-14zM1222.9 759h14v14h-14zM1226.4 762.4h14v14h-14zM1229.9 765.7h14v14h-14zM1233.4 768.9h14v14h-14zM1236.9 772.1h14v14h-14zM1240.4 775.2h14v14h-14zM1243.9 778.2h14v14h-14zM1247.4 781.2h14v14h-14zM1250.9 784.2h14v14h-14zM1254.4 787h14v14h-14zM1257.9 789.9h14v14h-14zM1261.4 792.6h14v14h-14zM1264.9 795.4h14v14h-14zM1268.4 798h14v14h-14zM1271.9 800.7h14v14h-14zM1275.3 803.2h14v14h-14zM1278.8 805.8h14v14h-14zM1282.3 808.3h14v14h-14zM1285.8 810.7h14v14h-14zM1289.3 813.1h14v14h-14zM1292.8 815.5h14v14h-14zM1296.3 817.8h14v14h-14zM1299.8 820h14v14h-14zM1303.3 822.3h14v14h-14zM1306.8 824.5h14v14h-14zM1310.3 826.6h14v14h-14zM1313.8 828.7h14v14h-14zM1317.3 830.8h14v14h-14zM1320.8 832.8h14v14h-14zM1324.3 834.8h14v14h-14zM1327.7 836.8h14v14h-14zM1331.2 838.7h14v14h-14zM1334.7 840.7h14v14h-14zM1338.2 842.5h14v14h-14zM1341.7 844.4h14v14h-14zM1345.2 846.2h14v14h-14zM1348.7 847.9h14v14h-14zM1352.2 849.7h14v14h-14zM1355.7 851.4h14v14h-14zM1359.2 853.1h14v14h-14zM1362.7 854.8h14v14h-14zM1366.2 856.4h14v14h-14zM1369.7 858h14v14h-14zM1373.2 859.6h14v14h-14zM1376.7 861.1h14v14h-14zM1380.1 862.7h14v14h-14zM1383.6 864.2h14v14h-14zM1387.1 865.6h14v14h-14zM1390.6 867.1h14v14h-14zM1394.1 868.5h14v14h-14zM1397.6 869.9h14v14h-14zM1401.1 871.3h14v14h-14zM1404.6 872.7h14v14h-14zM1408.1 874h14v14h-14zM1411.6 875.3h14v14h-14zM1415.1 876.6h14v14h-14zM1418.6 877.9h14v14h-14zM1422.1 879.2h14v14h-14zM1425.6 880.4h14v14h-14zM1429.1 881.6h14v14h-14zM1432.6 882.8h14v14h-14zM1436 884h14v14h-14zM1439.5 885.2h14v14h-14zM1443 886.3h14v14h-14zM1446.5 887.4h14v14h-14zM1450 888.5h14v14h-14zM1453.5 889.6h14v14h-14zM1457 890.7h14v14h-14zM1460.5 891.8h14v14h-14zM1464 892.8h14v14h-14zM1467.5 893.8h14v14h-14zM1471 894.9h14v14h-14zM1474.5 895.8h14v14h-14zM1478 896.8h14v14h-14zM1481.5 897.8h14v14h-14zM1485 898.8h14v14h-14zM1488.4 899.7h14v14h-14zM1491.9 900.6h14v14h-14zM1495.4 901.5h14v14h-14zM1498.9 902.4h14v14h-14zM1502.4 903.3h14v14h-14zM1505.9 904.2h14v14h-14zM1509.4 905.1h14v14h-14zM1512.9 905.9h14v14h-14zM1516.4 906.8h14v14h-14zM1519.9 907.6h14v14h-14zM1523.4 908.4h14v14h-14zM1526.9 909.2h14v14h-14zM1530.4 910h14v14h-14zM1533.9 910.8h14v14h-14zM1537.4 911.5h14v14h-14zM1540.8 912.3h14v14h-14zM1544.3 913.1h14v14h-14zM1547.8 913.8h14v14h-14zM1551.3 914.5h14v14h-14zM1554.8 915.3h14v14h-14zM1558.3 916h14v14h-14zM1561.8 916.7h14v14h-14zM1565.3 917.4h14v14h-14zM1568.8 918.1h14v14h-14zM1572.3 918.7h14v14h-14zM1575.8 919.4h14v14h-14zM1579.3 920.1h14v14h-14zM1582.8 920.7h14v14h-14zM1586.3 921.4h14v14h-14zM1589.8 922h14v14h-14zM1593.3 922.6h14v14h-14zM1596.7 923.2h14v14h-14zM1600.2 923.8h14v14h-14zM1603.7 924.4h14v14h-14zM1607.2 925h14v14h-14zM1610.7 925.6h14v14h-14zM1614.2 926.2h14v14h-14zM1617.7 926.8h14v14h-14zM1621.2 927.3h14v14h-14zM1624.7 927.9h14v14h-14zM1628.2 928.4h14v14h-14zM1631.7 928.9h14v14h-14zM1635.2 929.5h14v14h-14zM1638.7 930h14v14h-14zM1642.2 930.5h14v14h-14zM1645.7 931h14v14h-14zM1649.1 931.5h14v14h-14zM1652.6 932h14v14h-14zM1656.1 932.5h14v14h-14zM1659.6 933h14v14h-14zM1663.1 933.4h14v14h-14zM1666.6 933.9h14v14h-14zM1670.1 934.4h14v14h-14zM1673.6 934.8h14v14h-14zM1677.1 935.3h14v14h-14zM1680.6 935.7h14v14h-14zM1684.1 936.1h14v14h-14zM1687.6 936.5h14v14h-14zM1691.1 937h14v14h-14zM1694.6 937.4h14v14h-14zM1698.1 937.8h14v14h-14zM1701.6 938.2h14v14h-14zM1705 938.6h14v14h-14zM1708.5 938.9h14v14h-14zM1712 939.3h14v14h-14zM1715.5 939.7h14v14h-14zM1719 940.1h14v14h-14zM1722.5 940.4h14v14h-14zM1726 940.8h14v14h-14zM1729.5 941.1h14v14h-14zM1733 941.5h14v14h-14zM1736.5 941.8h14v14h-14zM1740 942.1h14v14h-14zM1743.5 942.5h14v14h-14zM1747 942.8h14v14h-14zM1750.5 943.1h14v14h-14zM1754 943.4h14v14h-14zM1757.4 943.7h14v14h-14zM1760.9 944h14v14h-14zM1764.4 944.3h14v14h-14zM1767.9 944.6h14v14h-14zM1771.4 944.8h14v14h-14zM1774.9 945.1h14v14h-14zM1778.4 945.4h14v14h-14zM1781.9 945.6h14v14h-14zM1785.4 945.9h14v14h-14zM1788.9 946.1h14v14h-14zM1792.4 946.4h14v14h-14zM1795.9 946.6h14v14h-14zM1799.4 946.9h14v14h-14zM1802.9 947.1h14v14h-14zM1806.4 947.3h14v14h-14zM1809.8 947.5h14v14h-14zM1813.3 947.7h14v14h-14zM1816.8 948h14v14h-14zM1820.3 948.2h14v14h-14zM1823.8 948.3h14v14h-14zM1827.3 948.5h14v14h-14zM1830.8 948.7h14v14h-14zM1834.3 948.8h14v14h-14zM1837.8 949h14v14h-14zM1841.3 949.1h14v14h-14zM1844.8 949.3h14v14h-14zM1848.3 949.5h14v14h-14zM1851.8 949.6h14v14h-14zM1855.3 949.8h14v14h-14zM1858.8 950h14v14h-14zM1862.3 950.2h14v14h-14zM1865.7 950.5h14v14h-14zM1869.2 950.7h14v14h-14zM1872.7 950.9h14v14h-14zM1876.2 951h14v14h-14zM1879.7 951.1h14v14h-14zM1883.2 950.9h14v14h-14zM1886.7 950.6h14v14h-14zM1890.2 950.2h14v14h-14zM1893.7 949.7h14v14h-14zM1897.2 949.3h14v14h-14zM1900.7 948.9h14v14h-14zM1904.2 948.8h14v14h-14zM1907.7 948.8h14v14h-14zM1911.2 948.8h14v14h-14zM1914.7 948.8h14v14h-14zM1918.1 948.8h14v14h-14zM1921.6 948.8h14v14h-14zM1925.1 948.9h14v14h-14zM1928.6 948.9h14v14h-14zM1932.1 948.9h14v14h-14zM1935.6 948.9h14v14h-14zM1939.1 949h14v14h-14zM1942.6 949.1h14v14h-14zM1946.1 949.1h14v14h-14zM1947.5 949.2h14v14h-14z"/>
<path fill="#f00" d="M1176.8 737.3a7.2 7.2 0 1 0 14.4 0a7.2 7.2 0 1 0 -14.4 0zM1180.3 744.9a7.2 7.2 0 1 0 14.4 0a7.2 7.2 0 1 0 -14.4 0zM1183.8 752.4a7.2 7.2 0 1 0 14.4 0a7.2 7.2 0 1 0 -14.4 0zM1187.3 759.7a7.2 7.2 0 1 0 14.4 0a7.2 7.2 0 1 0 -14.4 0zM1190.8 766.8a7.2 7.2 0 1 0 14.4 0a7.2 7.2 0 1 0 -14.4 0zM1194.3 773.8a7.2 7.2 0 1 0 14.4 0a7.2 7.2 0 1 0 -14.4 0zM1197.8 780.6a7.2 7.2 0 1 0 14.4 0a7.2 7.2 0 1 0 -14.4 0zM1201.3 787.3a7.2 7.2 0 1 0 14.4 0a7.2 7.2 0 1 0 -14.4 0zM1204.8 793.9a7.2 7.2 0 1 0 14.4 0a7.2 7.2 0 1 0 -14.4 0zM1208.3 800.3a7.2 7.2 0 1 0 14.4 0a7.2 7.2 0 1 0 -14.4 0zM1211.8 806.6a7.2 7.2 0 1 0 14.4 0a7.2 7.2 0 1 0 -14.4 0zM1215.3 812.7a7.2 7.2 0 1 0 14.4 0a7.2 7.2 0 1 0 -14.4 0zM1218.7 818.8a7.2 7.2 0 1 0 14.4 0a7.2 7.2 0 1 0 -14.4 0zM1222.2 824.7a7.2 7.2 0 1 0 14.4 0a7.2 7.2 0 1 0 -14.4 0zM1225.7 830.5a7.2 7.2 0 1 0 14.4 0a7.2 7.2 0 1 0 -14.4 0zM1229.2 836.2a7.2 7.2 0 1 0 14.4 0a7.2 7.2 0 1 0 -14.4 0zM1232.7 841.7a7.2 7.2 0 1 0 14.4 0a7.2 7.2 0 1 0 -14.4 0zM1236.2 847.2a7.2 7.2 0 1 0 14.4 0a7.2 7.2 0 1 0 -14.4 0zM1239.7 852.5a7.2 7.2 0 1 0 14.4 0a7.2 7.2 0 1 0 -14.4 0zM1243.2 857.8a7.2 7.2 0 1 0 14.4 0a7.2 7.2 0 1 0 -14.4 0zM1246.7 862.9a7.2 7.2 0 1 0 14.4 0a7.2 7.2 0 1 0 -14.4 0zM1250.2 867.9a7.2 7.2 0 1 0 14.4 0a7.2 7.2 0 1 0 -14.4 0zM1253.7 872.8a7.2 7.2 0 1 0 14.4 0a7.2 7.2 0 1 0 -14.4 0zM1257.2 877.6a7.2 7.2 0 1 0 14.4 0a7.2 7.2 0 1 0 -14.4 0zM1260.7 882.3a7.2 7.2 0 1 0 14.4 0a7.2 7.2 0 1 0 -14.4 0zM1264.2 886.9a7.2 7.2 0 1 0 14.4 0a7.2 7.2 0 1 0 -14.4 0zM1267.7 891.4a7.2 7.2 0 1 0 14.4 0a7.2 7.2 0 1 0 -14.4 0zM1271.2 895.8a7.2 7.2 0 1 0 14.4 0a7.2 7.2 0 1 0 -14.4 0zM1274.6 900.1a7.2 7.2 0 1 0 14.4 0a7.2 7.2 0 1 0 -14.4 0zM1278.1 904.3a7.2 7.2 0 1 0 14.4 0a7.2 7.2 0 1 0 -14.4 0zM1281.6 908.5a7.2 7.2 0 1 0 14.4 0a7.2 7.2 0 1 0 -14.4 0zM1285.1 912.5a7.2 7.2 0 1 0 14.4 0a7.2 7.2 0 1 0 -14.4 0zM1288.6 916.4a7.2 7.2 0 1 0 14.4 0a7.2 7.2 0 1 0 -14.4 0zM1292.1 920.3a7.2 7.2 0 1 0 14.4 0a7.2 7.2 0 1 0 -14.4 0zM1295.6 924a7.2 7.2 0 1 0 14.4 0a7.2 7.2 0 1 0 -14.4 0zM1299.1 927.7a7.2 7.2 0 1 0 14.4 0a7.2 7.2 0 1 0 -14.4 0zM1302.6 931.3a7.2 7.2 0 1 0 14.4 0a7.2 7.2 0 1 0 -14.4 0zM1306.1 934.8a7.2 7.2 0 1 0 14.4 0a7.2 7.2 0 1 0 -14.4 0zM1309.6 938.2a7.2 7.2 0 1 0 14.4 0a7.2 7.2 0 1 0 -14.4 0zM1313.1 941.5a7.2 7.2 0 1 0 14.4 0a7.2 7.2 0 1 0 -14.4 0zM1316.6 944.8a7.2 7.2 0 1 0 14.4 0a7.2 7.2 0 1 0 -14.4 0zM1320.1 948a7.2 7.2 0 1 0 14.4 0a7.2 7.2 0 1 0 -14.4 0zM1323.6 951.1a7.2 7.2 0 1 0 14.4 0a7.2 7.2 0 1 0 -14.4 0zM1327 954.1a7.2 7.2 0 1 0 14.4 0a7.2 7.2 0 1 0 -14.4 0zM1330.5 957.1a7.2 7.2 0 1 0 14.4 0a7.2 7.2 0 1 0 -14.4 0zM1334 960a7.2 7.2 0 1 0 14.4 0a7.2 7.2 0 1 0 -14.4 0zM1337.5 962.8a7.2 7.2 0 1 0 14.4 0a7.2 7.2 0 1 0 -14.4 0zM1341 965.5a7.2 7.2 0 1 0 14.4 0a7.2 7.2 0 1 0 -14.4 0zM1344.5 968.2a7.2 7.2 0 1 0 14.4 0a7.2 7.2 0 1 0 -14.4 0zM1348 970.8a7.2 7.2 0 1 0 14.4 0a7.2 7.2 0 1 0 -14.4 0zM1351.5 973.4a7.2 7.2 0 1 0 14.4 0a7.2 7.2 0 1 0 -14.4 0zM1355 975.9a7.2 7.2 0 1 0 14.4 0a7.2 7.2 0 1 0 -14.4 0zM1358.5 978.3a7.2 7.2 0 1 0 14.4 0a7.2 7.2 0 1 0 -14.4 0zM1362 980.7a7.2 7.2 0 1 0 14.4 0a7.2 7.2 0 1 0 -14.4 0zM1365.5 983a7.2 7.2 0 1 0 14.4 0a7.2 7.2 0 1 0 -14.4 0zM1369 985.2a7.2 7.2 0 1 0 14.4 0a7.2 7.2 0 1 0 -14.4 0zM1372.5 987.4a7.2 7.2 0 1 0 14.4 0a7.2 7.2 0 1 0 -14.4 0zM1376 989.6a7.2 7.2 0 1 0 14.4 0a7.2 7.2 0 1 0 -14.4 0zM1379.4 991.7a7.2 7.2 0 1 0 14.4 0a7.2 7.2 0 1 0 -14.4 0zM1382.9 993.7a7.2 7.2 0 1 0 14.4 0a7.2 7.2 0 1 0 -14.4 0zM1386.4 995.7a7.2 7.2 0 1 0 14.4 0a7.2 7.2 0 1 0 -14.4 0zM1389.9 997.6a7.2 7.2 0 1 0 14.4 0a7.2 7.2 0 1 0 -14.4 0zM1393.4 999.5a7.2 7.2 0 1 0 14.4 0a7.2 7.2 0 1 0 -14.4 0zM1396.9 1001.3a7.2 7.2 0 1 0 14.4 0a7.2 7.2 0 1 0 -14.4 0zM1400.4 1003.1a7.2 7.2 0 1 0 14.4 0a7.2 7.2 0 1 0 -14.4 0zM1403.9 1004.9a7.2 7.2 0 1 0 14.4 0a7.2 7.2 0 1 0 -14.4 0zM1407.4 1006.6a7.2 7.2 0 1 0 14.4 0a7.2 7.2 0 1 0 -14.4 0zM1410.9 1008.2a7.2 7.2 0 1 0 14.4 0a7.2 7.2 0 1 0 -14.4 0zM1414.4 1009.8a7.2 7.2 0 1 0 14.4 0a7.2 7.2 0 1 0 -14.4 0zM1417.9 1011.4a7.2 7.2 0 1 0 14.4 0a7.2 7.2 0 1 0 -14.4 0zM1421.4 1012.9a7.2 7.2 0 1 0 14.4 0a7.2 7.2 0 1 0 -14.4 0zM1424.9 1014.4a7.2 7.2 0 1 0 14.4 0a7.2 7.2 0 1 0 -14.4 0zM1428.4 1015.9a7.2 7.2 0 1 0 14.4 0a7.2 7.2 0 1 0 -14.4 0zM1431.9 1017.3a7.2 7.2 0 1 0 14.4 0a7.2 7.2 0 1 0 -14.4 0zM1435.3 1018.7a7.2 7.2 0 1 0 14.4 0a7.2 7.2 0 1 0 -14.4 0zM1438.8 1020a7.2 7.2 0 1 0 14.4 0a7.2 7.2 0 1 0 -14.4 0zM1442.3 1021.3a7.2 7.2 0 1 0 14.4 0a7.2 7.2 0 1 0 -14.4 0zM1445.8 1022.6a7.2 7.2 0 1 0 14.4 0a7.2 7.2 0 1 0 -14.4 0zM1449.3 1023.8a7.2 7.2 0 1 0 14.4 0a7.2 7.2 0 1 0 -14.4 0zM1452.8 1025a7.2 7.2 0 1 0 14.4 0a7.2 7.2 0 1 0 -14.4 0zM1456.3 1026.2a7.2 7.2 0 1 0 14.4 0a7.2 7.2 0 1 0 -14.4 0zM1459.8 1027.3a7.2 7.2 0 1 0 14.4 0a7.2 7.2 0 1 0 -14.4 0zM1463.3 1028.4a7.2 7.2 0 1 0 14.4 0a7.2 7.2 0 1 0 -14.4 0zM1466.8 1029.5a7.2 7.2 0 1 0 14.4 0a7.2 7.2 0 1 0 -14.4 0zM1470.3 1030.6a7.2 7.2 0 1 0 14.4 0a7.2 7.2 0 1 0 -14.4 0zM1473.8 1031.6a7.2 7.2 0 1 0 14.4 0a7.2 7.2 0 1 0 -14.4 0zM1477.3 1032.6a7.2 7.2 0 1 0 14.4 0a7.2 7.2 0 1 0 -14.4 0zM1480.8 1033.5a7.2 7.2 0 1 0 14.4 0a7.2 7.2 0 1 0 -14.4 0zM1484.3 1034.5a7.2 7.2 0 1 0 14.4 0a7.2 7.2 0 1 0 -14.4 0zM1487.7 1035.4a7.2 7.2 0 1 0 14.4 0a7.2 7.2 0 1 0 -14.4 0zM1491.2 1036.3a7.2 7.2 0 1 0 14.4 0a7.2 7.2 0 1 0 -14.4 0zM1494.7 1037.2a7.2 7.2 0 1 0 14.4 0a7.2 7.2 0 1 0 -14.4 0zM1498.2 1038a7.2 7.2 0 1 0 14.4 0a7.2 7.2 0 1 0 -14.4 0zM1501.7 1038.9a7.2 7.2 0 1 0 14.4 0a7.2 7.2 0 1 0 -14.4 0zM1505.2 1039.7a7.2 7.2 0 1 0 14.4 0a7.2 7.2 0 1 0 -14.4 0zM1508.7 1040.5a7.2 7.2 0 1 0 14.4 0a7.2 7.2 0 1 0 -14.4 0zM1512.2 1041.3a7.2 7.2 0 1 0 14.4 0a7.2 7.2 0 1 0 -14.4 0zM1515.7 1042.1a7.2 7.2 0 1 0 14.4 0a7.2 7.2 0 1 0 -14.4 0zM1519.2 1042.9a7.2 7.2 0 1 0 14.4 0a7.2 7.2 0 1 0 -14.4 0zM1522.7 1043.6a7.2 7.2 0 1 0 14.4 0a7.2 7.2 0 1 0 -14.4 0zM1526.2 1044.4a7.2 7.2 0 1 0 14.4 0a7.2 7.2 0 1 0 -14.4 0zM1529.7 1045.1a7.2 7.2 0 1 0 14.4 0a7.2 7.2 0 1 0 -14.4 0zM1533.2 1045.9a7.2 7.2 0 1 0 14.4 0a7.2 7.2 0 1 0 -14.4 0zM1536.7 1046.6a7.2 7.2 0 1 0 14.4 0a7.2 7.2 0 1 0 -14.4 0zM1540.1 1047.3a7.2 7.2 0 1 0 14.4 0a7.2 7.2 0 1 0 -14.4 0zM1543.6 1048a7.2 7.2 0 1 0 14.4 0a7.2 7.2 0 1 0 -14.4 0zM1547.1 1048.7a7.2 7.2 0 1 0 14.4 0a7.2 7.2 0 1 0 -14.4 0zM1550.6 1049.4a7.2 7.2 0 1 0 14.4 0a7.2 7.2 0 1 0 -14.4 0zM1554.1 1050.1a7.2 7.2 0 1 0 14.4 0a7.2 7.2 0 1 0 -14.4 0zM1557.6 1050.8a7.2 7.2 0 1 0 14.4 0a7.2 7.2 0 1 0 -14.4 0zM1561.1 1051.5a7.2 7.2 0 1 0 14.4 0a7.2 7.2 0 1 0 -14.4 0zM1564.6 1052.2a7.2 7.2 0 1 0 14.4 0a7.2 7.2 0 1 0 -14.4 0zM1568.1 1052.9a7.2 7.2 0 1 0 14.4 0a7.2 7.2 0 1 0 -14.4 0zM1571.6 1053.5a7.2 7.2 0 1 0 14.4 0a7.2 7.2 0 1 0 -14.4 0zM1575.1 1054.2a7.2 7.2 0 1 0 14.4 0a7.2 7.2 0 1 0 -14.4 0zM1578.6 1054.9a7.2 7.2 0 1 0 14.4 0a7.2 7.2 0 1 0 -14.4 0zM1582.1 1055.5a7.2 7.2 0 1 0 14.4 0a7.2 7.2 0 1 0 -14.4 0zM1585.6 1056.2a7.2 7.2 0 1 0 14.4 0a7.2 7.2 0 1 0 -14.4 0zM1589.1 1056.8a7.2 7.2 0 1 0 14.4 0a7.2 7.2 0 1 0 -14.4 0zM1592.6 1057.4a7.2 7.2 0 1 0 14.4 0a7.2 7.2 0 1 0 -14.4 0zM1596 1058.1a7.2 7.2 0 1 0 14.4 0a7.2 7.2 0 1 0 -14.4 0zM1599.5 1058.7a7.2 7.2 0 1 0 14.4 0a7.2 7.2 0 1 0 -14.4 0zM1603 1059.3a7.2 7.2 0 1 0 14.4 0a7.2 7.2 0 1 0 -14.4 0zM1606.5 1059.9a7.2 7.2 0 1 0 14.4 0a7.2 7.2 0 1 0 -14.4 0zM1610 1060.5a7.2 7.2 0 1 0 14.4 0a7.2 7.2 0 1 0 -14.4 0zM1613.5 1061.1a7.2 7.2 0 1 0 14.4 0a7.2 7.2 0 1 0 -14.4 0zM1617 1061.7a7.2 7.2 0 1 0 14.4 0a7.2 7.2 0 1 0 -14.4 0zM1620.5 1062.2a7.2 7.2 0 1 0 14.4 0a7.2 7.2 0 1 0 -14.4 0zM1624 1062.8a7.2 7.2 0 1 0 14.4 0a7.2 7.2 0 1 0 -14.4 0zM1627.5 1063.3a7.2 7.2 0 1 0 14.4 0a7.2 7.2 0 1 0 -14.4 0zM1631 1063.9a7.2 7.2 0 1 0 14.4 0a7.2 7.2 0 1 0 -14.4 0zM1634.5 1064.4a7.2 7.2 0 1 0 14.4 0a7.2 7.2 0 1 0 -14.4 0zM1638 1064.9a7.2 7.2 0 1 0 14.4 0a7.2 7.2 0 1 0 -14.4 0zM1641.5 1065.5a7.2 7.2 0 1 0 14.4 0a7.2 7.2 0 1 0 -14.4 0zM1645 1066a7.2 7.2 0 1 0 14.4 0a7.2 7.2 0 1 0 -14.4 0zM1648.4 1066.4a7.2 7.2 0 1 0 14.4 0a7.2 7.2 0 1 0 -14.4 0zM1651.9 1066.9a7.2 7.2 0 1 0 14.4 0a7.2 7.2 0 1 0 -14.4 0zM1655.4 1067.4a7.2 7.2 0 1 0 14.4 0a7.2 7.2 0 1 0 -14.4 0zM1658.9 1067.8a7.2 7.2 0 1 0 14.4 0a7.2 7.2 0 1 0 -14.4 0zM1662.4 1068.3a7.2 7.2 0 1 0 14.4 0a7.2 7.2 0 1 0 -14.4 0zM1665.9 1068.7a7.2 7.2 0 1 0 14.4 0a7.2 7.2 0 1 0 -14.4 0zM1669.4 1069.1a7.2 7.2 0 1 0 14.4 0a7.2 7.2 0 1 0 -14.4 0zM1672.9 1069.5a7.2 7.2 0 1 0 14.4 0a7.2 7.2 0 1 0 -14.4 0zM1676.4 1069.9a7.2 7.2 0 1 0 14.4 0a7.2 7.2 0 1 0 -14.4 0zM1679.9 1070.3a7.2 7.2 0 1 0 14.4 0a7.2 7.2 0 1 0 -14.4 0zM1683.4 1070.7a7.2 7.2 0 1 0 14.4 0a7.2 7.2 0 1 0 -14.4 0zM1686.9 1071a7.2 7.2 0 1 0 14.4 0a7.2 7.2 0 1 0 -14.4 0zM1690.4 1071.4a7.2 7.2 0 1 0 14.4 0a7.2 7.2 0 1 0 -14.4 0zM1693.9 1071.7a7.2 7.2 0 1 0 14.4 0a7.2 7.2 0 1 0 -14.4 0zM1697.4 1072a7.2 7.2 0 1 0 14.4 0a7.2 7.2 0 1 0 -14.4 0zM1700.9 1072.3a7.2 7.2 0 1 0 14.4 0a7.2 7.2 0 1 0 -14.4 0zM1704.3 1072.6a7.2 7.2 0 1 0 14.4 0a7.2 7.2 0 1 0 -14.4 0zM1707.8 1072.9a7.2 7.2 0 1 0 14.4 0a7.2 7.2 0 1 0 -14.4 0zM1711.3 1073.2a7.2 7.2 0 1 0 14.4 0a7.2 7.2 0 1 0 -14.4 0zM1714.8 1073.5a7.2 7.2 0 1 0 14.4 0a7.2 7.2 0 1 0 -14.4 0zM1718.3 1073.7a7.2 7.2 0 1 0 14.4 0a7.2 7.2 0 1 0 -14.4 0zM1721.8 1074a7.2 7.2 0 1 0 14.4 0a7.2 7.2 0 1 0 -14.4 0zM1725.3 1074.2a7.2 7.2 0 1 0 14.4 0a7.2 7.2 0 1 0 -14.4 0zM1728.8 1074.5a7.2 7.2 0 1 0 14.4 0a7.2 7.2 0 1 0 -14.4 0zM1732.3 1074.7a7.2 7.2 0 1 0 14.4 0a7.2 7.2 0 1 0 -14.4 0zM1735.8 1074.9a7.2 7.2 0 1 0 14.4 0a7.2 7.2 0 1 0 -14.4 0zM1739.3 1075.2a7.2 7.2 0 1 0 14.4 0a7.2 7.2 0 1 0 -14.4 0zM1742.8 1075.4a7.2 7.2 0 1 0 14.4 0a7.2 7.2 0 1 0 -14.4 0zM1746.3 1075.6a7.2 7.2 0 1 0 14.4 0a7.2 7.2 0 1 0 -14.4 0zM1749.8 1075.8a7.2 7.2 0 1 0 14.4 0a7.2 7.2 0 1 0 -14.4 0zM1753.3 1076a7.2 7.2 0 1 0 14.4 0a7.2 7.2 0 1 0 -14.4 0zM1756.7 1076.2a7.2 7.2 0 1 0 14.4 0a7.2 7.2 0 1 0 -14.4 0zM1760.2 1076.4a7.2 7.2 0 1 0 14.4 0a7.2 7.2 0 1 0 -14.4 0zM1763.7 1076.6a7.2 7.2 0 1 0 14.4 0a7.2 7.2 0 1 0 -14.4 0zM1767.2 1076.7a7.2 7.2 0 1 0 14.4 0a7.2 7.2 0 1 0 -14.4 0zM1770.7 1076.9a7.2 7.2 0 1 0 14.4 0a7.2 7.2 0 1 0 -14.4 0zM1774.2 1077.1a7.2 7.2 0 1 0 14.4 0a7.2 7.2 0 1 0 -14.4 0zM1777.7 1077.3a7.2 7.2 0 1 0 14.4 0a7.2 7.2 0 1 0 -14.4 0zM1781.2 1077.5a7.2 7.2 0 1 0 14.4 0a7.2 7.2 0 1 0 -14.4 0zM1784.7 1077.6a7.2 7.2 0 1 0 14.4 0a7.2 7.2 0 1 0 -14.4 0zM1788.2 1077.8a7.2 7.2 0 1 0 14.4 0a7.2 7.2 0 1 0 -14.4 0zM1791.7 1078a7.2 7.2 0 1 0 14.4 0a7.2 7.2 0 1 0 -14.4 0zM1795.2 1078.1a7.2 7.2 0 1 0 14.4 0a7.2 7.2 0 1 0 -14.4 0zM1798.7 1078.3a7.2 7.2 0 1 0 14.4 0a7.2 7.2 0 1 0 -14.4 0zM1802.2 1078.5a7.2 7.2 0 1 0 14.4 0a7.2 7.2 0 1 0 -14.4 0zM1805.7 1078.6a7.2 7.2 0 1 0 14.4 0a7.2 7.2 0 1 0 -14.4 0zM1809.1 1078.8a7.2 7.2 0 1 0 14.4 0a7.2 7.2 0 1 0 -14.4 0zM1812.6 1079a7.2 7.2 0 1 0 14.4 0a7.2 7.2 0 1 0 -14.4 0zM1816.1 1079.1a7.2 7.2 0 1 0 14.4 0a7.2 7.2 0 1 0 -14.4 0zM1819.6 1079.3a7.2 7.2 0 1 0 14.4 0a7.2 7.2 0 1 0 -14.4 0zM1823.1 1079.5a7.2 7.2 0 1 0 14.4 0a7.2 7.2 0 1 0 -14.4 0zM1826.6 1079.7a7.2 7.2 0 1 0 14.4 0a7.2 7.2 0 1 0 -14.4 0zM1830.1 1079.8a7.2 7.2 0 1 0 14.4 0a7.2 7.2 0 1 0 -14.4 0zM1833.6 1080a7.2 7.2 0 1 0 14.4 0a7.2 7.2 0 1 0 -14.4 0zM1837.1 1080.2a7.2 7.2 0 1 0 14.4 0a7.2 7.2 0 1 0 -14.4 0zM1840.6 1080.4a7.2 7.2 0 1 0 14.4 0a7.2 7.2 0 1 0 -14.4 0zM1844.1 1080.6a7.2 7.2 0 1 0 14.4 0a7.2 7.2 0 1 0 -14.4 0zM1847.6 1080.8a7.2 7.2 0 1 0 14.4 0a7.2 7.2 0 1 0 -14.4 0zM1851.1 1081a7.2 7.2 0 1 0 14.4 0a7.2 7.2 0 1 0 -14.4 0zM1854.6 1081.2a7.2 7.2 0 1 0 14.4 0a7.2 7.2 0 1 0 -14.4 0zM1858.1 1081.4a7.2 7.2 0 1 0 14.4 0a7.2 7.2 0 1 0 -14.4 0zM1861.6 1081.7a7.2 7.2 0 1 0 14.4 0a7.2 7.2 0 1 0 -14.4 0zM1865 1082a7.2 7.2 0 1 0 14.4 0a7.2 7.2 0 1 0 -14.4 0zM1868.5 1082.4a7.2 7.2 0 1 0 14.4 0a7.2 7.2 0 1 0 -14.4 0zM1872 1082.7a7.2 7.2 0 1 0 14.4 0a7.2 7.2 0 1 0 -14.4 0zM1875.5 1083a7.2 7.2 0 1 0 14.4 0a7.2 7.2 0 1 0 -14.4 0zM1879 1083.3a7.2 7.2 0 1 0 14.4 0a7.2 7.2 0 1 0 -14.4 0zM1882.5 1083.5a7.2 7.2 0 1 0 14.4 0a7.2 7.2 0 1 0 -14.4 0zM1886 1083.6a7.2 7.2 0 1 0 14.4 0a7.2 7.2 0 1 0 -14.4 0zM1889.5 1083.6a7.2 7.2 0 1 0 14.4 0a7.2 7.2 0 1 0 -14.4 0zM1893 1083.5a7.2 7.2 0 1 0 14.4 0a7.2 7.2 0 1 0 -14.4 0zM1896.5 1083.2a7.2 7.2 0 1 0 14.4 0a7.2 7.2 0 1 0 -14.4 0zM1900 1082.8a7.2 7.2 0 1 0 14.4 0a7.2 7.2 0 1 0 -14.4 0zM1903.5 1082.3a7.2 7.2 0 1 0 14.4 0a7.2 7.2 0 1 0 -14.4 0zM1907 1081.8a7.2 7.2 0 1 0 14.4 0a7.2 7.2 0 1 0 -14.4 0zM1910.5 1081.4a7.2 7.2 0 1 0 14.4 0a7.2 7.2 0 1 0 -14.4 0zM1914 1081.2a7.2 7.2 0 1 0 14.4 0a7.2 7.2 0 1 0 -14.4 0zM1917.4 1081.1a7.2 7.2 0 1 0 14.4 0a7.2 7.2 0 1 0 -14.4 0zM1920.9 1081.2a7.2 7.2 0 1 0 14.4 0a7.2 7.2 0 1 0 -14.4 0zM1924.4 1081.3a7.2 7.2 0 1 0 14.4 0a7.2 7.2 0 1 0 -14.4 0zM1927.9 1081.5a7.2 7.2 0 1 0 14.4 0a7.2 7.2 0 1 0 -14.4 0zM1931.4 1081.8a7.2 7.2 0 1 0 14.4 0a7.2 7.2 0 1 0 -14.4 0zM1934.9 1082.1a7.2 7.2 0 1 0 14.4 0a7.2 7.2 0 1 0 -14.4 0zM1938.4 1082.5a7.2 7.2 0 1 0 14.4 0a7.2 7.2 0 1 0 -14.4 0zM1941.9 1082.9a7.2 7.2 0 1 0 14.4 0a7.2 7.2 0 1 0 -14.4 0zM1945.4 1083.4a7.2 7.2 0 1 0 14.4 0a7.2 7.2 0 1 0 -14.4 0zM1946.8 1083.6a7.2 7.2 0 1 0 14.4 0a7.2 7.2 0 1 0 -14.4 0z"/>
</g>
<line x1="1179.7" y1="1132.8" x2="1186" y2="1132.8" stroke="#000" stroke-width="2"/>
<line x1="1175.2" y1="1089.5" x2="1186" y2="1089.5" stroke="#000" stroke-width="2"/>
<text x="1165.5" y="1103.9" font-size="50" text-anchor="end" font-family='"Liberation Sans", sans-serif'>0</text>
<line x1="1179.7" y1="1046.2" x2="1186" y2="1046.2" stroke="#000" stroke-width="2"/>
<line x1="1175.2" y1="1002.9" x2="1186" y2="1002.9" stroke="#000" stroke-width="2"/>
<text x="1165.5" y="1017.3" font-size="50" text-anchor="end" font-family='"Liberation Sans", sans-serif'>10</text>
<line x1="1179.7" y1="959.5" x2="1186" y2="959.5" stroke="#000" stroke-width="2"/>
<line x1="1175.2" y1="916.2" x2="1186" y2="916.2" stroke="#000" stroke-width="2"/>
<text x="1165.5" y="930.6" font-size="50" text-anchor="end" font-family='"Liberation Sans", sans-serif'>20</text>
<line x1="1179.7" y1="872.9" x2="1186" y2="872.9" stroke="#000" stroke-width="2"/>
<line x1="1175.2" y1="829.6" x2="1186" y2="829.6" stroke="#000" stroke-width="2"/>
<text x="1165.5" y="844" font-size="50" text-anchor="end" font-family='"Liberation Sans", sans-serif'>30</text>
<line x1="1179.7" y1="786.3" x2="1186" y2="786.3" stroke="#000" stroke-width="2"/>
<line x1="1175.2" y1="742.9" x2="1186" y2="742.9" stroke="#000" stroke-width="2"/>
<text x="1165.5" y="757.3" font-size="50" text-anchor="end" font-family='"Liberation Sans", sans-serif'>40</text>
<line x1="1179.7" y1="699.6" x2="1186" y2="699.6" stroke="#000" stroke-width="2"/>
<line x1="1175.2" y1="656.3" x2="1186" y2="656.3" stroke="#000" stroke-width="2"/>
<text x="1165.5" y="670.7" font-size="50" text-anchor="end" font-family='"Liberation Sans", sans-serif'>50</text>
<line x1="1179.7" y1="613" x2="1186" y2="613" stroke="#000" stroke-width="2"/>
<line x1="1175.2" y1="569.7" x2="1186" y2="569.7" stroke="#000" stroke-width="2"/>
<text x="1165.5" y="584.1" font-size="50" text-anchor="end" font-family='"Liberation Sans", sans-serif'>60</text>
<line x1="1185.2" y1="1132.4" x2="1185.2" y2="1139.7" stroke="#000" stroke-width="2"/>
<line x1="1203.6" y1="1132.4" x2="1203.6" y2="1139.7" stroke="#000" stroke-width="2"/>
<line x1="1219.2" y1="1132.4" x2="1219.2" y2="1139.7" stroke="#000" stroke-width="2"/>
<line x1="1232.7" y1="1132.4" x2="1232.7" y2="1139.7" stroke="#000" stroke-width="2"/>
<line x1="1244.6" y1="1132.4" x2="1244.6" y2="1139.7" stroke="#000" stroke-width="2"/>
<line x1="1255.3" y1="1132.4" x2="1255.3" y2="1144.4" stroke="#000" stroke-width="2"/>
<line x1="1325.4" y1="1132.4" x2="1325.4" y2="1139.7" stroke="#000" stroke-width="2"/>
<line x1="1366.4" y1="1132.4" x2="1366.4" y2="1139.7" stroke="#000" stroke-width="2"/>
<line x1="1395.5" y1="1132.4" x2="1395.5" y2="1139.7" stroke="#000" stroke-width="2"/>
<line x1="1418.1" y1="1132.4" x2="1418.1" y2="1139.7" stroke="#000" stroke-width="2"/>
<line x1="1436.5" y1="1132.4" x2="1436.5" y2="1139.7" stroke="#000" stroke-width="2"/>
<line x1="1452.1" y1="1132.4" x2="1452.1" y2="1139.7" stroke="#000" stroke-width="2"/>
<line x1="1465.6" y1="1132.4" x2="1465.6" y2="1139.7" stroke="#000" stroke-width="2"/>
<line x1="1477.5" y1="1132.4" x2="1477.5" y2="1139.7" stroke="#000" stroke-width="2"/>
<line x1="1488.2" y1="1132.4" x2="1488.2" y2="1144.4" stroke="#000" stroke-width="2"/>
<line x1="1558.3" y1="1132.4" x2="1558.3" y2="1139.7" stroke="#000" stroke-width="2"/>
<line x1="1599.3" y1="1132.4" x2="1599.3" y2="1139.7" stroke="#000" stroke-width="2"/>
<line x1="1628.4" y1="1132.4" x2="1628.4" y2="1139.7" stroke="#000" stroke-width="2"/>
<line x1="1651" y1="1132.4" x2="1651" y2="1139.7" stroke="#000" stroke-width="2"/>
<line x1="1669.4" y1="1132.4" x2="1669.4" y2="1139.7" stroke="#000" stroke-width="2"/>
<line x1="1685" y1="1132.4" x2="1685" y2="1139.7" stroke="#000" stroke-width="2"/>
<line x1="1698.5" y1="1132.4" x2="1698.5" y2="1139.7" stroke="#000" stroke-width="2"/>
<line x1="1710.4" y1="1132.4" x2="1710.4" y2="1139.7" stroke="#000" stroke-width="2"/>
<line x1="1721.1" y1="1132.4" x2="1721.1" y2="1144.4" stroke="#000" stroke-width="2"/>
<line x1="1791.2" y1="1132.4" x2="1791.2" y2="1139.7" stroke="#000" stroke-width="2"/>
<line x1="1832.2" y1="1132.4" x2="1832.2" y2="1139.7" stroke="#000" stroke-width="2"/>
<line x1="1861.3" y1="1132.4" x2="1861.3" y2="1139.7" stroke="#000" stroke-width="2"/>
<line x1="1883.9" y1="1132.4" x2="1883.9" y2="1139.7" stroke="#000" stroke-width="2"/>
<line x1="1902.3" y1="1132.4" x2="1902.3" y2="1139.7" stroke="#000" stroke-width="2"/>
<line x1="1917.9" y1="1132.4" x2="1917.9" y2="1139.7" stroke="#000" stroke-width="2"/>
<line x1="1931.4" y1="1132.4" x2="1931.4" y2="1139.7" stroke="#000" stroke-width="2"/>
<line x1="1943.3" y1="1132.4" x2="1943.3" y2="1139.7" stroke="#000" stroke-width="2"/>
<line x1="1954" y1="1132.4" x2="1954" y2="1144.4" stroke="#000" stroke-width="2"/>
<text x="1218.9" y="1200.2" font-size="49.5" font-family='"Liberation Sans", sans-serif'>10<tspan font-size="29.5" dy="-23.9">4</tspan></text>
<text x="1451.8" y="1200.2" font-size="49.5" font-family='"Liberation Sans", sans-serif'>10<tspan font-size="29.5" dy="-23.9">5</tspan></text>
<text x="1684.7" y="1200.2" font-size="49.5" font-family='"Liberation Sans", sans-serif'>10<tspan font-size="29.5" dy="-23.9">6</tspan></text>
<text x="1917.6" y="1200.2" font-size="49.5" font-family='"Liberation Sans", sans-serif'>10<tspan font-size="29.5" dy="-23.9">7</tspan></text>
</g>
<g id="panel-b">
<line x1="313.8" y1="1651.5" x2="2111.9" y2="1651.5" stroke="#000" stroke-width="4"/>
<line x1="2109.8" y1="1651.5" x2="2109.8" y2="2971.4" stroke="#000" stroke-width="4"/>
<line x1="321.3" y1="2703.7" x2="2100" y2="2703.7" stroke="#808080" stroke-width="4.2" stroke-dasharray="17.5 15.7"/>
<g clip-path="url(#cb)" shape-rendering="crispEdges">
<path fill="#00f" d="M316.5 2341.7l19.5 34h-39zM321.6 2099.2l19.5 34h-39zM326.7 2120.1l19.5 34h-39zM331.7 2020.9l19.5 34h-39zM336.8 2153.5l19.5 34h-39zM341.9 1838.8l19.5 34h-39zM352 2191.2l19.5 34h-39zM357.1 2092.4l19.5 34h-39zM362.2 2159.1l19.5 34h-39zM367.3 2142.2l19.5 34h-39zM372.4 2152.1l19.5 34h-39zM377.4 2161.9l19.5 34h-39zM382.5 2171.5l19.5 34h-39zM387.6 2180.9l19.5 34h-39zM392.7 2190.1l19.5 34h-39zM397.7 2199.2l19.5 34h-39zM402.8 2208.1l19.5 34h-39zM407.9 2216.8l19.5 34h-39zM413 2225.4l19.5 34h-39zM418.1 2233.8l19.5 34h-39zM423.1 2242.1l19.5 34h-39zM428.2 2250.2l19.5 34h-39zM433.3 2258.2l19.5 34h-39zM438.4 2266l19.5 34h-39zM443.4 2273.7l19.5 34h-39zM448.5 2281.2l19.5 34h-39zM453.6 2288.6l19.5 34h-39zM458.7 2295.9l19.5 34h-39zM463.7 2303l19.5 34h-39zM468.8 2310l19.5 34h-39zM473.9 2316.9l19.5 34h-39zM479 2323.7l19.5 34h-39zM484.1 2330.3l19.5 34h-39zM489.1 2336.9l19.5 34h-39zM494.2 2343.3l19.5 34h-39zM499.3 2349.6l19.5 34h-39zM504.4 2355.8l19.5 34h-39zM509.4 2361.9l19.5 34h-39zM514.5 2367.9l19.5 34h-39zM519.6 2373.8l19.5 34h-39zM524.7 2379.6l19.5 34h-39zM529.8 2385.3l19.5 34h-39zM534.8 2390.9l19.5 34h-39zM539.9 2396.4l19.5 34h-39zM545 2401.8l19.5 34h-39zM550.1 2407.1l19.5 34h-39zM555.1 2412.3l19.5 34h-39zM560.2 2417.4l19.5 34h-39zM565.3 2422.4l19.5 34h-39zM570.4 2427.4l19.5 34h-39zM575.5 2432.2l19.5 34h-39zM580.5 2437l19.5 34h-39zM585.6 2441.6l19.5 34h-39zM590.7 2446.2l19.5 34h-39zM595.8 2450.7l19.5 34h-39zM600.8 2455.2l19.5 34h-39zM605.9 2459.6l19.5 34h-39zM611 2463.9l19.5 34h-39zM616.1 2468.1l19.5 34h-39zM621.2 2472.3l19.5 34h-39zM626.2 2476.4l19.5 34h-39zM631.3 2480.4l19.5 34h-39zM636.4 2484.4l19.5 34h-39zM641.5 2488.3l19.5 34h-39zM646.5 2492.2l19.5 34h-39zM651.6 2496l19.5 34h-39zM656.7 2499.8l19.5 34h-39zM661.8 2503.5l19.5 34h-39zM666.8 2507.2l19.5 34h-39zM671.9 2510.8l19.5 34h-39zM677 2514.4l19.5 34h-39zM682.1 2517.9l19.5 34h-39zM687.2 2521.4l19.5 34h-39zM692.2 2524.9l19.5 34h-39zM697.3 2528.3l19.5 34h-39zM702.4 2531.7l19.5 34h-39zM707.5 2535l19.5 34h-39zM712.5 2538.3l19.5 34h-39zM717.6 2541.6l19.5 34h-39zM722.7 2544.9l19.5 34h-39zM727.8 2548.1l19.5 34h-39zM732.9 2551.3l19.5 34h-39zM737.9 2554.5l19.5 34h-39zM743 2557.6l19.5 34h-39zM748.1 2560.7l19.5 34h-39zM753.2 2563.8l19.5 34h-39zM758.2 2566.9l19.5 34h-39zM763.3 2570l19.5 34h-39zM768.4 2573l19.5 34h-39zM773.5 2576l19.5 34h-39zM778.6 2579l19.5 34h-39zM783.6 2582l19.5 34h-39zM788.7 2585l19.5 34h-39zM793.8 2587.9l19.5 34h-39zM798.9 2590.9l19.5 34h-39zM803.9 2593.8l19.5 34h-39zM809 2596.8l19.5 34h-39zM814.1 2599.7l19.5 34h-39zM819.2 2602.6l19.5 34h-39zM824.3 2605.5l19.5 34h-39zM829.3 2608.4l19.5 34h-39zM834.4 2611.3l19.5 34h-39zM839.5 2614.2l19.5 34h-39zM844.6 2617.1l19.5 34h-39zM849.6 2619.9l19.5 34h-39zM854.7 2622.8l19.5 34h-39zM859.8 2625.7l19.5 34h-39zM864.9 2628.5l19.5 34h-39zM869.9 2631.4l19.5 34h-39zM875 2634.3l19.5 34h-39zM880.1 2637.2l19.5 34h-39zM885.2 2640l19.5 34h-39zM890.3 2642.9l19.5 34h-39zM895.3 2645.8l19.5 34h-39zM900.4 2648.6l19.5 34h-39zM905.5 2651.5l19.5 34h-39zM910.6 2654.4l19.5 34h-39zM915.6 2657.3l19.5 34h-39zM920.7 2660.1l19.5 34h-39zM925.8 2663l19.5 34h-39zM930.9 2665.9l19.5 34h-39zM936 2668.8l19.5 34h-39zM941 2671.6l19.5 34h-39zM946.1 2674.5l19.5 34h-39zM951.2 2677.4l19.5 34h-39zM956.3 2680.2l19.5 34h-39zM961.3 2683l19.5 34h-39zM966.4 2685.9l19.5 34h-39zM971.5 2688.7l19.5 34h-39zM976.6 2691.5l19.5 34h-39zM981.7 2694.3l19.5 34h-39zM986.7 2697l19.5 34h-39zM991.8 2699.8l19.5 34h-39zM996.9 2702.5l19.5 34h-39zM1002 2705.2l19.5 34h-39zM1007 2707.9l19.5 34h-39zM1012.1 2710.6l19.5 34h-39zM1017.2 2713.2l19.5 34h-39zM1022.3 2715.9l19.5 34h-39zM1027.4 2718.5l19.5 34h-39zM1032.4 2721.1l19.5 34h-39zM1037.5 2723.6l19.5 34h-39zM1042.6 2726.2l19.5 34h-39zM1047.7 2728.7l19.5 34h-39zM1052.7 2731.2l19.5 34h-39zM1057.8 2733.7l19.5 34h-39zM1062.9 2736.1l19.5 34h-39zM1068 2738.5l19.5 34h-39zM1073 2740.9l19.5 34h-39zM1078.1 2743.3l19.5 34h-39zM1083.2 2745.6l19.5 34h-39zM1088.3 2747.9l19.5 34h-39zM1093.4 2750.2l19.5 34h-39zM1098.4 2752.4l19.5 34h-39zM1103.5 2754.7l19.5 34h-39zM1108.6 2756.9l19.5 34h-39zM1113.7 2759.1l19.5 34h-39zM1118.7 2761.2l19.5 34h-39zM1123.8 2763.4l19.5 34h-39zM1128.9 2765.5l19.5 34h-39zM1134 2767.6l19.5 34h-39zM1139.1 2769.7l19.5 34h-39zM1144.1 2771.7l19.5 34h-39zM1149.2 2773.8l19.5 34h-39zM1154.3 2775.8l19.5 34h-39zM1159.4 2777.8l19.5 34h-39zM1164.4 2779.8l19.5 34h-39zM1169.5 2781.7l19.5 34h-39zM1174.6 2783.6l19.5 34h-39zM1179.7 2785.6l19.5 34h-39zM1184.8 2787.4l19.5 34h-39zM1189.8 2789.3l19.5 34h-39zM1194.9 2791.2l19.5 34h-39zM1200 2793l19.5 34h-39zM1205.1 2794.8l19.5 34h-39zM1210.1 2796.6l19.5 34h-39zM1215.2 2798.4l19.5 34h-39zM1220.3 2800.2l19.5 34h-39zM1225.4 2801.9l19.5 34h-39zM1230.5 2803.7l19.5 34h-39zM1235.5 2805.4l19.5 34h-39zM1240.6 2807.1l19.5 34h-39zM1245.7 2808.8l19.5 34h-39zM1250.8 2810.4l19.5 34h-39zM1255.8 2812.1l19.5 34h-39zM1260.9 2813.7l19.5 34h-39zM1266 2815.3l19.5 34h-39zM1271.1 2816.9l19.5 34h-39zM1276.1 2818.5l19.5 34h-39zM1281.2 2820.1l19.5 34h-39zM1286.3 2821.6l19.5 34h-39zM1291.4 2823.2l19.5 34h-39zM1296.5 2824.7l19.5 34h-39zM1301.5 2826.2l19.5 34h-39zM1306.6 2827.7l19.5 34h-39zM1311.7 2829.2l19.5 34h-39zM1316.8 2830.7l19.5 34h-39zM1321.8 2832.1l19.5 34h-39zM1326.9 2833.6l19.5 34h-39zM1332 2835l19.5 34h-39zM1337.1 2836.4l19.5 34h-39zM1342.2 2837.8l19.5 34h-39zM1347.2 2839.2l19.5 34h-39zM1352.3 2840.6l19.5 34h-39zM1357.4 2841.9l19.5 34h-39zM1362.5 2843.3l19.5 34h-39zM1367.5 2844.6l19.5 34h-39zM1372.6 2845.9l19.5 34h-39zM1377.7 2847.2l19.5 34h-39zM1382.8 2848.5l19.5 34h-39zM1387.9 2849.8l19.5 34h-39zM1392.9 2851.1l19.5 34h-39zM1398 2852.3l19.5 34h-39zM1403.1 2853.6l19.5 34h-39zM1408.2 2854.8l19.5 34h-39zM1413.2 2856.1l19.5 34h-39zM1418.3 2857.3l19.5 34h-39zM1423.4 2858.5l19.5 34h-39zM1428.5 2859.7l19.5 34h-39zM1433.6 2860.8l19.5 34h-39zM1438.6 2862l19.5 34h-39zM1443.7 2863.2l19.5 34h-39zM1448.8 2864.3l19.5 34h-39zM1453.9 2865.4l19.5 34h-39zM1458.9 2866.5l19.5 34h-39zM1464 2867.7l19.5 34h-39zM1469.1 2868.7l19.5 34h-39zM1474.2 2869.8l19.5 34h-39zM1479.2 2870.9l19.5 34h-39zM1484.3 2872l19.5 34h-39zM1489.4 2873l19.5 34h-39zM1494.5 2874.1l19.5 34h-39zM1499.6 2875.1l19.5 34h-39zM1504.6 2876.1l19.5 34h-39zM1509.7 2877.1l19.5 34h-39zM1514.8 2878.1l19.5 34h-39zM1519.9 2879.1l19.5 34h-39zM1524.9 2880.1l19.5 34h-39zM1530 2881l19.5 34h-39zM1535.1 2882l19.5 34h-39zM1540.2 2882.9l19.5 34h-39zM1545.3 2883.8l19.5 34h-39zM1550.3 2884.7l19.5 34h-39zM1555.4 2885.6l19.5 34h-39zM1560.5 2886.5l19.5 34h-39zM1565.6 2887.4l19.5 34h-39zM1570.6 2888.3l19.5 34h-39zM1575.7 2889.1l19.5 34h-39zM1580.8 2890l19.5 34h-39zM1585.9 2890.8l19.5 34h-39zM1591 2891.6l19.5 34h-39zM1596 2892.4l19.5 34h-39zM1601.1 2893.2l19.5 34h-39zM1606.2 2894l19.5 34h-39zM1611.3 2894.8l19.5 34h-39zM1616.3 2895.5l19.5 34h-39zM1621.4 2896.3l19.5 34h-39zM1626.5 2897l19.5 34h-39zM1631.6 2897.7l19.5 34h-39zM1636.7 2898.4l19.5 34h-39zM1641.7 2899.1l19.5 34h-39zM1646.8 2899.8l19.5 34h-39zM1651.9 2900.5l19.5 34h-39zM1657 2901.1l19.5 34h-39zM1662 2901.8l19.5 34h-39zM1667.1 2902.4l19.5 34h-39zM1672.2 2903.1l19.5 34h-39zM1677.3 2903.7l19.5 34h-39zM1682.3 2904.3l19.5 34h-39zM1687.4 2904.9l19.5 34h-39zM1692.5 2905.4l19.5 34h-39zM1697.6 2906l19.5 34h-39zM1702.7 2906.6l19.5 34h-39zM1707.7 2907.1l19.5 34h-39zM1712.8 2907.7l19.5 34h-39zM1717.9 2908.2l19.5 34h-39zM1723 2908.7l19.5 34h-39zM1728 2909.2l19.5 34h-39zM1733.1 2909.7l19.5 34h-39zM1738.2 2910.2l19.5 34h-39zM1743.3 2910.7l19.5 34h-39zM1748.4 2911.2l19.5 34h-39zM1753.4 2911.6l19.5 34h-39zM1758.5 2912.1l19.5 34h-39zM1763.6 2912.5l19.5 34h-39zM1768.7 2913l19.5 34h-39zM1773.7 2913.4l19.5 34h-39zM1778.8 2913.9l19.5 34h-39zM1783.9 2914.3l19.5 34h-39zM1789 2914.7l19.5 34h-39zM1794.1 2915.1l19.5 34h-39zM1799.1 2915.5l19.5 34h-39zM1804.2 2915.9l19.5 34h-39zM1809.3 2916.3l19.5 34h-39zM1814.4 2916.7l19.5 34h-39zM1819.4 2917l19.5 34h-39zM1824.5 2917.4l19.5 34h-39zM1829.6 2917.8l19.5 34h-39zM1834.7 2918.1l19.5 34h-39zM1839.8 2918.5l19.5 34h-39zM1844.8 2918.8l19.5 34h-39zM1849.9 2919.2l19.5 34h-39zM1855 2919.5l19.5 34h-39zM1860.1 2919.8l19.5 34h-39zM1865.1 2920.1l19.5 34h-39zM1870.2 2920.5l19.5 34h-39zM1875.3 2920.8l19.5 34h-39zM1880.4 2921.1l19.5 34h-39zM1885.4 2921.4l19.5 34h-39zM1890.5 2921.7l19.5 34h-39zM1895.6 2922l19.5 34h-39zM1900.7 2922.3l19.5 34h-39zM1905.8 2922.6l19.5 34h-39zM1910.8 2922.9l19.5 34h-39zM1915.9 2923.1l19.5 34h-39zM1921 2923.4l19.5 34h-39zM1926.1 2923.7l19.5 34h-39zM1931.1 2923.9l19.5 34h-39zM1936.2 2924.2l19.5 34h-39zM1941.3 2924.4l19.5 34h-39zM1946.4 2924.6l19.5 34h-39zM1951.5 2924.9l19.5 34h-39zM1956.5 2925.1l19.5 34h-39zM1961.6 2925.3l19.5 34h-39zM1966.7 2925.5l19.5 34h-39zM1971.8 2925.7l19.5 34h-39zM1976.8 2925.9l19.5 34h-39zM1981.9 2926.1l19.5 34h-39zM1987 2926.4l19.5 34h-39zM1992.1 2926.8l19.5 34h-39zM1997.2 2927.1l19.5 34h-39zM2002.2 2927.5l19.5 34h-39zM2007.3 2928.2l19.5 34h-39zM2012.4 2929.1l19.5 34h-39zM2017.5 2929.9l19.5 34h-39zM2022.5 2930.7l19.5 34h-39zM2027.6 2931.2l19.5 34h-39zM2032.7 2931.4l19.5 34h-39zM2037.8 2931.2l19.5 34h-39zM2042.9 2930.6l19.5 34h-39zM2047.9 2929.8l19.5 34h-39zM2053 2929.1l19.5 34h-39zM2058.1 2928.6l19.5 34h-39zM2063.2 2928.5l19.5 34h-39zM2068.2 2928.7l19.5 34h-39zM2073.3 2929l19.5 34h-39zM2078.4 2929.5l19.5 34h-39zM2083.5 2930.2l19.5 34h-39zM2088.5 2930.9l19.5 34h-39zM2093.6 2931.8l19.5 34h-39zM2098.7 2932.8l19.5 34h-39zM2103.8 2934l19.5 34h-39zM2108.9 2936.5l19.5 34h-39zM2110.9 2937.5l19.5 34h-39z"/>
</g>
<line x1="315.8" y1="1649.5" x2="315.8" y2="2971.4" stroke="#000" stroke-width="4"/>
<line x1="313.8" y1="2969.4" x2="2111.9" y2="2969.4" stroke="#000" stroke-width="4"/>
<line x1="290.4" y1="2969.5" x2="315.8" y2="2969.5" stroke="#000" stroke-width="4"/>
<text x="270.3" y="2986.5" font-size="57.5" text-anchor="end" font-family='"Liberation Sans", sans-serif'>0.0</text>
<line x1="304.6" y1="2903.6" x2="315.8" y2="2903.6" stroke="#000" stroke-width="4"/>
<line x1="290.4" y1="2837.7" x2="315.8" y2="2837.7" stroke="#000" stroke-width="4"/>
<text x="270.3" y="2854.7" font-size="57.5" text-anchor="end" font-family='"Liberation Sans", sans-serif'>0.5</text>
<line x1="304.6" y1="2771.8" x2="315.8" y2="2771.8" stroke="#000" stroke-width="4"/>
<line x1="290.4" y1="2705.9" x2="315.8" y2="2705.9" stroke="#000" stroke-width="4"/>
<text x="270.3" y="2722.9" font-size="57.5" text-anchor="end" font-family='"Liberation Sans", sans-serif'>1.0</text>
<line x1="304.6" y1="2640" x2="315.8" y2="2640" stroke="#000" stroke-width="4"/>
<line x1="290.4" y1="2574.1" x2="315.8" y2="2574.1" stroke="#000" stroke-width="4"/>
<text x="270.3" y="2591.1" font-size="57.5" text-anchor="end" font-family='"Liberation Sans", sans-serif'>1.5</text>
<line x1="304.6" y1="2508.2" x2="315.8" y2="2508.2" stroke="#000" stroke-width="4"/>
<line x1="290.4" y1="2442.3" x2="315.8" y2="2442.3" stroke="#000" stroke-width="4"/>
<text x="270.3" y="2459.3" font-size="57.5" text-anchor="end" font-family='"Liberation Sans", sans-serif'>2.0</text>
<line x1="304.6" y1="2376.4" x2="315.8" y2="2376.4" stroke="#000" stroke-width="4"/>
<line x1="290.4" y1="2310.5" x2="315.8" y2="2310.5" stroke="#000" stroke-width="4"/>
<text x="270.3" y="2327.5" font-size="57.5" text-anchor="end" font-family='"Liberation Sans", sans-serif'>2.5</text>
<line x1="304.6" y1="2244.6" x2="315.8" y2="2244.6" stroke="#000" stroke-width="4"/>
<line x1="290.4" y1="2178.7" x2="315.8" y2="2178.7" stroke="#000" stroke-width="4"/>
<text x="270.3" y="2195.7" font-size="57.5" text-anchor="end" font-family='"Liberation Sans", sans-serif'>3.0</text>
<line x1="304.6" y1="2112.8" x2="315.8" y2="2112.8" stroke="#000" stroke-width="4"/>
<line x1="290.4" y1="2046.9" x2="315.8" y2="2046.9" stroke="#000" stroke-width="4"/>
<text x="270.3" y="2063.9" font-size="57.5" text-anchor="end" font-family='"Liberation Sans", sans-serif'>3.5</text>
<line x1="304.6" y1="1981" x2="315.8" y2="1981" stroke="#000" stroke-width="4"/>
<line x1="290.4" y1="1915.1" x2="315.8" y2="1915.1" stroke="#000" stroke-width="4"/>
<text x="270.3" y="1932.1" font-size="57.5" text-anchor="end" font-family='"Liberation Sans", sans-serif'>4.0</text>
<line x1="304.6" y1="1849.2" x2="315.8" y2="1849.2" stroke="#000" stroke-width="4"/>
<line x1="290.4" y1="1783.3" x2="315.8" y2="1783.3" stroke="#000" stroke-width="4"/>
<text x="270.3" y="1800.3" font-size="57.5" text-anchor="end" font-family='"Liberation Sans", sans-serif'>4.5</text>
<line x1="304.6" y1="1717.4" x2="315.8" y2="1717.4" stroke="#000" stroke-width="4"/>
<line x1="290.4" y1="1651.5" x2="315.8" y2="1651.5" stroke="#000" stroke-width="4"/>
<text x="270.3" y="1668.5" font-size="57.5" text-anchor="end" font-family='"Liberation Sans", sans-serif'>5.0</text>
<line x1="315.5" y1="2969.4" x2="315.5" y2="2983" stroke="#000" stroke-width="4"/>
<line x1="342.3" y1="2969.4" x2="342.3" y2="2983" stroke="#000" stroke-width="4"/>
<line x1="365" y1="2969.4" x2="365" y2="2983" stroke="#000" stroke-width="4"/>
<line x1="384.6" y1="2969.4" x2="384.6" y2="2983" stroke="#000" stroke-width="4"/>
<line x1="401.9" y1="2969.4" x2="401.9" y2="2983" stroke="#000" stroke-width="4"/>
<line x1="417.4" y1="2969.4" x2="417.4" y2="2996.7" stroke="#000" stroke-width="4"/>
<line x1="519.3" y1="2969.4" x2="519.3" y2="2983" stroke="#000" stroke-width="4"/>
<line x1="578.9" y1="2969.4" x2="578.9" y2="2983" stroke="#000" stroke-width="4"/>
<line x1="621.2" y1="2969.4" x2="621.2" y2="2983" stroke="#000" stroke-width="4"/>
<line x1="654" y1="2969.4" x2="654" y2="2983" stroke="#000" stroke-width="4"/>
<line x1="680.8" y1="2969.4" x2="680.8" y2="2983" stroke="#000" stroke-width="4"/>
<line x1="703.5" y1="2969.4" x2="703.5" y2="2983" stroke="#000" stroke-width="4"/>
<line x1="723.1" y1="2969.4" x2="723.1" y2="2983" stroke="#000" stroke-width="4"/>
<line x1="740.4" y1="2969.4" x2="740.4" y2="2983" stroke="#000" stroke-width="4"/>
<line x1="755.9" y1="2969.4" x2="755.9" y2="2996.7" stroke="#000" stroke-width="4"/>
<line x1="857.8" y1="2969.4" x2="857.8" y2="2983" stroke="#000" stroke-width="4"/>
<line x1="917.4" y1="2969.4" x2="917.4" y2="2983" stroke="#000" stroke-width="4"/>
<line x1="959.7" y1="2969.4" x2="959.7" y2="2983" stroke="#000" stroke-width="4"/>
<line x1="992.5" y1="2969.4" x2="992.5" y2="2983" stroke="#000" stroke-width="4"/>
<line x1="1019.3" y1="2969.4" x2="1019.3" y2="2983" stroke="#000" stroke-width="4"/>
<line x1="1042" y1="2969.4" x2="1042" y2="2983" stroke="#000" stroke-width="4"/>
<line x1="1061.6" y1="2969.4" x2="1061.6" y2="2983" stroke="#000" stroke-width="4"/>
<line x1="1078.9" y1="2969.4" x2="1078.9" y2="2983" stroke="#000" stroke-width="4"/>
<line x1="1094.4" y1="2969.4" x2="1094.4" y2="2996.7" stroke="#000" stroke-width="4"/>
<line x1="1196.3" y1="2969.4" x2="1196.3" y2="2983" stroke="#000" stroke-width="4"/>
<line x1="1255.9" y1="2969.4" x2="1255.9" y2="2983" stroke="#000" stroke-width="4"/>
<line x1="1298.2" y1="2969.4" x2="1298.2" y2="2983" stroke="#000" stroke-width="4"/>
<line x1="1331" y1="2969.4" x2="1331" y2="2983" stroke="#000" stroke-width="4"/>
<line x1="1357.8" y1="2969.4" x2="1357.8" y2="2983" stroke="#000" stroke-width="4"/>
<line x1="1380.5" y1="2969.4" x2="1380.5" y2="2983" stroke="#000" stroke-width="4"/>
<line x1="1400.1" y1="2969.4" x2="1400.1" y2="2983" stroke="#000" stroke-width="4"/>
<line x1="1417.4" y1="2969.4" x2="1417.4" y2="2983" stroke="#000" stroke-width="4"/>
<line x1="1432.9" y1="2969.4" x2="1432.9" y2="2996.7" stroke="#000" stroke-width="4"/>
<line x1="1534.8" y1="2969.4" x2="1534.8" y2="2983" stroke="#000" stroke-width="4"/>
<line x1="1594.4" y1="2969.4" x2="1594.4" y2="2983" stroke="#000" stroke-width="4"/>
<line x1="1636.7" y1="2969.4" x2="1636.7" y2="2983" stroke="#000" stroke-width="4"/>
<line x1="1669.5" y1="2969.4" x2="1669.5" y2="2983" stroke="#000" stroke-width="4"/>
<line x1="1696.3" y1="2969.4" x2="1696.3" y2="2983" stroke="#000" stroke-width="4"/>
<line x1="1719" y1="2969.4" x2="1719" y2="2983" stroke="#000" stroke-width="4"/>
<line x1="1738.6" y1="2969.4" x2="1738.6" y2="2983" stroke="#000" stroke-width="4"/>
<line x1="1755.9" y1="2969.4" x2="1755.9" y2="2983" stroke="#000" stroke-width="4"/>
<line x1="1771.4" y1="2969.4" x2="1771.4" y2="2996.7" stroke="#000" stroke-width="4"/>
<line x1="1873.3" y1="2969.4" x2="1873.3" y2="2983" stroke="#000" stroke-width="4"/>
<line x1="1932.9" y1="2969.4" x2="1932.9" y2="2983" stroke="#000" stroke-width="4"/>
<line x1="1975.2" y1="2969.4" x2="1975.2" y2="2983" stroke="#000" stroke-width="4"/>
<line x1="2008" y1="2969.4" x2="2008" y2="2983" stroke="#000" stroke-width="4"/>
<line x1="2034.8" y1="2969.4" x2="2034.8" y2="2983" stroke="#000" stroke-width="4"/>
<line x1="2057.5" y1="2969.4" x2="2057.5" y2="2983" stroke="#000" stroke-width="4"/>
<line x1="2077.1" y1="2969.4" x2="2077.1" y2="2983" stroke="#000" stroke-width="4"/>
<line x1="2094.4" y1="2969.4" x2="2094.4" y2="2983" stroke="#000" stroke-width="4"/>
<line x1="2109.9" y1="2969.4" x2="2109.9" y2="2996.7" stroke="#000" stroke-width="4"/>
<line x1="315.8" y1="2969.4" x2="315.8" y2="2983" stroke="#000" stroke-width="4"/>
<text x="373.4" y="3067.6" font-size="58" font-family='"Liberation Sans", sans-serif'>10<tspan font-size="34.5" dy="-30.3">2</tspan></text>
<text x="711.9" y="3067.6" font-size="58" font-family='"Liberation Sans", sans-serif'>10<tspan font-size="34.5" dy="-30.3">3</tspan></text>
<text x="1050.4" y="3067.6" font-size="58" font-family='"Liberation Sans", sans-serif'>10<tspan font-size="34.5" dy="-30.3">4</tspan></text>
<text x="1388.9" y="3067.6" font-size="58" font-family='"Liberation Sans", sans-serif'>10<tspan font-size="34.5" dy="-30.3">5</tspan></text>
<text x="1727.4" y="3067.6" font-size="58" font-family='"Liberation Sans", sans-serif'>10<tspan font-size="34.5" dy="-30.3">6</tspan></text>
<text x="2065.9" y="3067.6" font-size="58" font-family='"Liberation Sans", sans-serif'>10<tspan font-size="34.5" dy="-30.3">7</tspan></text>
<text x="921.4" y="3149.4" font-size="70.8" text-anchor="start" font-family='"Liberation Sans", sans-serif'>Frequency (Hz)</text>
<g transform="translate(135.9,2329.2) rotate(-90)"><text transform="scale(0.955,1)" font-size="81" font-family='"Liberation Sans", sans-serif'>tan</text><text transform="translate(126,0) scale(1.087,1)" font-size="97.7" font-family='"Liberation Serif", "DejaVu Serif", serif'>δ</text></g>
<text x="351.5" y="1730" font-size="72.5" text-anchor="start" font-family='"Liberation Sans", sans-serif'>(b)</text>
</g>
</svg></body></html>
